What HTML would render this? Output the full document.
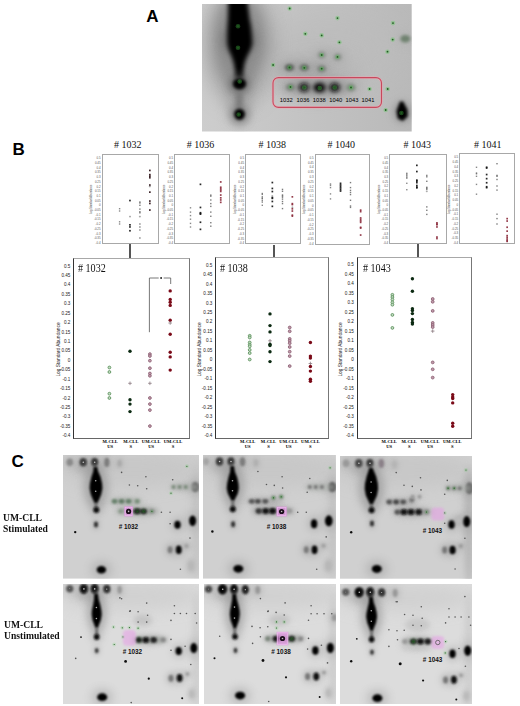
<!DOCTYPE html><html><head><meta charset="utf-8"><style>
html,body{margin:0;padding:0;background:#fff;}
body{width:520px;height:706px;position:relative;overflow:hidden;font-family:"Liberation Sans", sans-serif;}
.abs{position:absolute;}
.lab{position:absolute;font:bold 17px/17px "Liberation Sans", sans-serif;color:#000;}
.st{position:absolute;width:40px;text-align:center;font:10px/10px "Liberation Serif", serif;color:#111;white-space:nowrap;}
.sbox{position:absolute;box-sizing:border-box;border:1.3px solid #a8a8a8;background:#fff;}
.syl{position:absolute;width:11px;text-align:right;font:2.9px/2.6px "Liberation Sans", sans-serif;color:#555;white-space:nowrap;}
.syt{position:absolute;width:40px;margin-left:-20px;margin-top:-1.2px;text-align:center;font:2.6px/2.4px "Liberation Sans", sans-serif;color:#444;white-space:nowrap;transform:rotate(-90deg);}
.bbox{position:absolute;box-sizing:border-box;border-left:1.2px solid #333;border-top:1.6px solid #a8a8a8;border-right:1.2px solid #777;border-bottom:1.6px solid #666;background:#fff;}
.bt{position:absolute;font:11.6px/10px "Liberation Serif", serif;color:#111;white-space:nowrap;transform:scaleX(0.87);transform-origin:0 0;}
.byl{position:absolute;width:20px;text-align:right;font:4.6px/5px "Liberation Sans", sans-serif;color:#222;white-space:nowrap;}
.byt{position:absolute;width:80px;margin-left:-40px;margin-top:-2.5px;text-align:center;font:4.8px/5px "Liberation Sans", sans-serif;color:#222;white-space:nowrap;transform:rotate(-90deg);}
.bxl{position:absolute;width:30px;text-align:center;font:bold 4.6px/5px "Liberation Serif", serif;color:#000;white-space:nowrap;}
.conn{position:absolute;width:1.6px;background:#555;}
.side{position:absolute;font:bold 10.5px/11.25px "Liberation Serif", serif;color:#111;white-space:nowrap;transform:scaleX(0.915);transform-origin:0 0;}

</style></head><body>
<div class="lab" style="left:146.3px;top:7.8px;">A</div>
<div class="lab" style="left:12.5px;top:141px;">B</div>
<div class="lab" style="left:11.5px;top:453px;">C</div>
<svg class="abs" style="left:202.3px;top:4px" width="209.7" height="127.5" viewBox="0 0 209.7 127.5"><rect width="209.7" height="127.5" fill="url(#gA)"/><defs><linearGradient id="gA" x1="0" y1="0" x2="1" y2="0"><stop offset="0" stop-color="#cdcdcd"/><stop offset="0.35" stop-color="#c6c6c6"/><stop offset="1" stop-color="#b9b9b9"/></linearGradient></defs><ellipse cx="127.7" cy="46.0" rx="70.0" ry="35.0" fill="#bcbcbc" filter="url(#f14_00)" opacity="0.8"/><ellipse cx="37.2" cy="41.0" rx="32.0" ry="58.0" fill="#8e8e8e" filter="url(#f11_00)" opacity="0.75"/><ellipse cx="37.2" cy="36.0" rx="24.0" ry="44.0" fill="#868686" filter="url(#f7_00)" opacity="0.8"/><ellipse cx="112.7" cy="71.0" rx="45.0" ry="22.0" fill="#b4b4b4" filter="url(#f9_00)" opacity="0.8"/><ellipse cx="37.2" cy="96.0" rx="12.0" ry="26.0" fill="#9a9a9a" filter="url(#f6_00)" opacity="0.6"/><ellipse cx="37.2" cy="36.0" rx="17.0" ry="14.0" fill="#707070" filter="url(#f5_00)" opacity="0.8"/><path d="M26.2 -4.0 L26.2 1.0 L26.1 7.0 L25.9 14.0 L25.4 22.0 L25.2 31.0 L25.3 40.0 L26.8 46.0 L29.4 52.0 L31.4 58.0 L32.6 64.0 L33.2 70.0 L33.0 75.0 L41.4 75.0 L41.2 70.0 L41.8 64.0 L43.0 58.0 L45.4 52.0 L48.4 46.0 L50.3 40.0 L49.8 31.0 L49.0 22.0 L47.5 14.0 L46.7 7.0 L45.8 1.0 L45.2 -4.0Z" fill="#000" filter="url(#f2_20)"/><ellipse cx="37.2" cy="80.0" rx="10.0" ry="9.0" fill="#5a5a5a" filter="url(#f4_00)" opacity="0.8"/><ellipse cx="37.2" cy="95.0" rx="3.5" ry="12.0" fill="#7a7a7a" filter="url(#f2_50)"/><ellipse cx="37.5" cy="79.8" rx="6.6" ry="5.6" fill="#000" filter="url(#f1_60)"/><ellipse cx="37.5" cy="110.5" rx="9.0" ry="9.0" fill="#6a6a6a" filter="url(#f4_00)" opacity="0.7"/><ellipse cx="37.5" cy="110.3" rx="5.4" ry="5.6" fill="#050505" filter="url(#f1_60)"/><ellipse cx="115.7" cy="83.5" rx="36.0" ry="5.0" fill="#a2a2a2" filter="url(#f3_50)"/><ellipse cx="101.7" cy="63.8" rx="28.0" ry="4.5" fill="#acacac" filter="url(#f3_50)"/><ellipse cx="127.7" cy="52.0" rx="14.0" ry="5.0" fill="#b8b8b8" filter="url(#f3_50)"/><ellipse cx="88.5" cy="83.2" rx="9.2" ry="6.5" fill="#8a8a8a" filter="url(#f5_14)" opacity="0.275"/><ellipse cx="88.5" cy="83.2" rx="4.6" ry="3.6" fill="#7a847a" filter="url(#f1_70)"/><ellipse cx="102.3" cy="83.4" rx="10.8" ry="7.7" fill="#8a8a8a" filter="url(#f5_86)" opacity="0.6050000000000001"/><ellipse cx="102.3" cy="83.4" rx="5.4" ry="4.3" fill="#101010" filter="url(#f2_00)"/><ellipse cx="117.9" cy="83.6" rx="12.8" ry="8.8" fill="#8a8a8a" filter="url(#f6_76)" opacity="0.6050000000000001"/><ellipse cx="117.9" cy="83.6" rx="6.4" ry="4.9" fill="#050505" filter="url(#f2_00)"/><ellipse cx="132.7" cy="83.5" rx="10.8" ry="7.9" fill="#8a8a8a" filter="url(#f5_86)" opacity="0.6050000000000001"/><ellipse cx="132.7" cy="83.5" rx="5.4" ry="4.4" fill="#101010" filter="url(#f2_00)"/><ellipse cx="149.0" cy="83.6" rx="9.2" ry="6.8" fill="#8a8a8a" filter="url(#f5_14)" opacity="0.275"/><ellipse cx="149.0" cy="83.6" rx="4.6" ry="3.8" fill="#7f8e7f" filter="url(#f1_80)"/><ellipse cx="87.5" cy="63.5" rx="9.6" ry="6.3" fill="#8a8a8a" filter="url(#f5_32)" opacity="0.33"/><ellipse cx="87.5" cy="63.5" rx="4.8" ry="3.5" fill="#5a605a" filter="url(#f1_70)"/><ellipse cx="102.3" cy="63.6" rx="9.6" ry="6.3" fill="#8a8a8a" filter="url(#f5_32)" opacity="0.33"/><ellipse cx="102.3" cy="63.6" rx="4.8" ry="3.5" fill="#687068" filter="url(#f1_70)"/><ellipse cx="119.7" cy="64.7" rx="8.6" ry="6.3" fill="#8a8a8a" filter="url(#f4_87)" opacity="0.275"/><ellipse cx="119.7" cy="64.7" rx="4.3" ry="3.5" fill="#7a827a" filter="url(#f1_70)"/><ellipse cx="119.7" cy="51.0" rx="7.6" ry="6.5" fill="#8a8a8a" filter="url(#f4_42)" opacity="0.22000000000000003"/><ellipse cx="119.7" cy="51.0" rx="3.8" ry="3.6" fill="#8a908a" filter="url(#f1_80)"/><ellipse cx="135.7" cy="53.0" rx="7.6" ry="6.5" fill="#8a8a8a" filter="url(#f4_42)" opacity="0.22000000000000003"/><ellipse cx="135.7" cy="53.0" rx="3.8" ry="3.6" fill="#8a908a" filter="url(#f1_80)"/><ellipse cx="203.3" cy="34.8" rx="10.0" ry="6.8" fill="#8a8a8a" filter="url(#f5_50)" opacity="0.11000000000000001"/><ellipse cx="203.3" cy="34.8" rx="5.0" ry="3.8" fill="#6f826f" filter="url(#f1_50)"/><ellipse cx="200.2" cy="108.0" rx="8.0" ry="10.0" fill="#787878" filter="url(#f4_00)" opacity="0.7"/><path d="M198.0 97.5 L201.2 97.5 L205.5 106.0 L205.7 112.5 L200.7 117.0 L195.7 114.5 L194.5 107.0Z" fill="#000" filter="url(#f1_40)"/><circle cx="36.0" cy="22.2" r="2.3" fill="#4ccc4c" opacity="0.33" filter="url(#f0_60)"/><circle cx="36.0" cy="22.2" r="0.9" fill="#225a22" filter="url(#f0_30)"/><circle cx="36.0" cy="43.7" r="2.3" fill="#4ccc4c" opacity="0.33" filter="url(#f0_60)"/><circle cx="36.0" cy="43.7" r="0.9" fill="#225a22" filter="url(#f0_30)"/><circle cx="37.7" cy="77.5" r="2.3" fill="#4ccc4c" opacity="0.33" filter="url(#f0_60)"/><circle cx="37.7" cy="77.5" r="0.9" fill="#225a22" filter="url(#f0_30)"/><circle cx="36.7" cy="110.5" r="2.3" fill="#4ccc4c" opacity="0.33" filter="url(#f0_60)"/><circle cx="36.7" cy="110.5" r="0.9" fill="#225a22" filter="url(#f0_30)"/><circle cx="87.7" cy="4.5" r="2.3" fill="#4ccc4c" opacity="0.33" filter="url(#f0_60)"/><circle cx="87.7" cy="4.5" r="0.9" fill="#225a22" filter="url(#f0_30)"/><circle cx="103.3" cy="29.8" r="2.3" fill="#4ccc4c" opacity="0.33" filter="url(#f0_60)"/><circle cx="103.3" cy="29.8" r="0.9" fill="#225a22" filter="url(#f0_30)"/><circle cx="119.7" cy="31.4" r="2.3" fill="#4ccc4c" opacity="0.33" filter="url(#f0_60)"/><circle cx="119.7" cy="31.4" r="0.9" fill="#225a22" filter="url(#f0_30)"/><circle cx="135.5" cy="14.1" r="2.3" fill="#4ccc4c" opacity="0.33" filter="url(#f0_60)"/><circle cx="135.5" cy="14.1" r="0.9" fill="#225a22" filter="url(#f0_30)"/><circle cx="137.4" cy="38.3" r="2.3" fill="#4ccc4c" opacity="0.33" filter="url(#f0_60)"/><circle cx="137.4" cy="38.3" r="0.9" fill="#225a22" filter="url(#f0_30)"/><circle cx="119.7" cy="51.0" r="2.3" fill="#4ccc4c" opacity="0.33" filter="url(#f0_60)"/><circle cx="119.7" cy="51.0" r="0.9" fill="#225a22" filter="url(#f0_30)"/><circle cx="135.5" cy="52.9" r="2.3" fill="#4ccc4c" opacity="0.33" filter="url(#f0_60)"/><circle cx="135.5" cy="52.9" r="0.9" fill="#225a22" filter="url(#f0_30)"/><circle cx="191.0" cy="19.1" r="2.3" fill="#4ccc4c" opacity="0.33" filter="url(#f0_60)"/><circle cx="191.0" cy="19.1" r="0.9" fill="#225a22" filter="url(#f0_30)"/><circle cx="190.7" cy="35.6" r="2.3" fill="#4ccc4c" opacity="0.33" filter="url(#f0_60)"/><circle cx="190.7" cy="35.6" r="0.9" fill="#225a22" filter="url(#f0_30)"/><circle cx="185.5" cy="47.7" r="2.3" fill="#4ccc4c" opacity="0.33" filter="url(#f0_60)"/><circle cx="185.5" cy="47.7" r="0.9" fill="#225a22" filter="url(#f0_30)"/><circle cx="185.7" cy="85.0" r="2.3" fill="#4ccc4c" opacity="0.33" filter="url(#f0_60)"/><circle cx="185.7" cy="85.0" r="0.9" fill="#225a22" filter="url(#f0_30)"/><circle cx="183.7" cy="106.0" r="2.3" fill="#4ccc4c" opacity="0.33" filter="url(#f0_60)"/><circle cx="183.7" cy="106.0" r="0.9" fill="#225a22" filter="url(#f0_30)"/><circle cx="71.1" cy="61.0" r="2.3" fill="#4ccc4c" opacity="0.33" filter="url(#f0_60)"/><circle cx="71.1" cy="61.0" r="0.9" fill="#225a22" filter="url(#f0_30)"/><circle cx="87.5" cy="63.5" r="2.3" fill="#4ccc4c" opacity="0.33" filter="url(#f0_60)"/><circle cx="87.5" cy="63.5" r="0.9" fill="#225a22" filter="url(#f0_30)"/><circle cx="102.3" cy="63.8" r="2.3" fill="#4ccc4c" opacity="0.33" filter="url(#f0_60)"/><circle cx="102.3" cy="63.8" r="0.9" fill="#225a22" filter="url(#f0_30)"/><circle cx="119.7" cy="64.7" r="2.3" fill="#4ccc4c" opacity="0.33" filter="url(#f0_60)"/><circle cx="119.7" cy="64.7" r="0.9" fill="#225a22" filter="url(#f0_30)"/><circle cx="88.5" cy="83.0" r="2.3" fill="#4ccc4c" opacity="0.33" filter="url(#f0_60)"/><circle cx="88.5" cy="83.0" r="0.9" fill="#225a22" filter="url(#f0_30)"/><circle cx="102.3" cy="83.5" r="2.3" fill="#4ccc4c" opacity="0.33" filter="url(#f0_60)"/><circle cx="102.3" cy="83.5" r="0.9" fill="#225a22" filter="url(#f0_30)"/><circle cx="117.7" cy="84.0" r="2.3" fill="#4ccc4c" opacity="0.33" filter="url(#f0_60)"/><circle cx="117.7" cy="84.0" r="0.9" fill="#225a22" filter="url(#f0_30)"/><circle cx="132.7" cy="83.5" r="2.3" fill="#4ccc4c" opacity="0.33" filter="url(#f0_60)"/><circle cx="132.7" cy="83.5" r="0.9" fill="#225a22" filter="url(#f0_30)"/><circle cx="149.0" cy="83.5" r="2.3" fill="#4ccc4c" opacity="0.33" filter="url(#f0_60)"/><circle cx="149.0" cy="83.5" r="0.9" fill="#225a22" filter="url(#f0_30)"/><circle cx="167.6" cy="85.0" r="2.3" fill="#4ccc4c" opacity="0.33" filter="url(#f0_60)"/><circle cx="167.6" cy="85.0" r="0.9" fill="#225a22" filter="url(#f0_30)"/><circle cx="199.4" cy="109.0" r="2.3" fill="#4ccc4c" opacity="0.33" filter="url(#f0_60)"/><circle cx="199.4" cy="109.0" r="0.9" fill="#225a22" filter="url(#f0_30)"/><rect x="71.0" y="73.6" width="108.5" height="29.8" rx="5.5" fill="none" stroke="#e8a8b4" stroke-width="2.6" opacity="0.7"/><rect x="71.0" y="73.6" width="108.5" height="29.8" rx="5.5" fill="none" stroke="#c8485c" stroke-width="1.1"/><text x="84.2" y="98.4" font-family='"Liberation Sans", sans-serif' font-size="5.8" font-weight="normal" fill="#000" text-anchor="middle">1032</text><text x="101.0" y="98.4" font-family='"Liberation Sans", sans-serif' font-size="5.8" font-weight="normal" fill="#000" text-anchor="middle">1036</text><text x="117.3" y="98.4" font-family='"Liberation Sans", sans-serif' font-size="5.8" font-weight="normal" fill="#000" text-anchor="middle">1038</text><text x="133.7" y="98.4" font-family='"Liberation Sans", sans-serif' font-size="5.8" font-weight="normal" fill="#000" text-anchor="middle">1040</text><text x="150.0" y="98.4" font-family='"Liberation Sans", sans-serif' font-size="5.8" font-weight="normal" fill="#000" text-anchor="middle">1043</text><text x="166.0" y="98.4" font-family='"Liberation Sans", sans-serif' font-size="5.8" font-weight="normal" fill="#000" text-anchor="middle">1041</text></svg>
<div class="st" style="left:107.7px;top:139.5px;">#&nbsp;1032</div>
<div class="sbox" style="left:101.6px;top:154.3px;width:57.3px;height:90.0px;"></div>
<div class="syl" style="left:89.6px;top:157.2px;">0.5</div>
<div class="syl" style="left:89.6px;top:161.9px;">0.45</div>
<div class="syl" style="left:89.6px;top:166.6px;">0.4</div>
<div class="syl" style="left:89.6px;top:171.3px;">0.35</div>
<div class="syl" style="left:89.6px;top:176.0px;">0.3</div>
<div class="syl" style="left:89.6px;top:180.8px;">0.25</div>
<div class="syl" style="left:89.6px;top:185.5px;">0.2</div>
<div class="syl" style="left:89.6px;top:190.2px;">0.15</div>
<div class="syl" style="left:89.6px;top:194.9px;">0.1</div>
<div class="syl" style="left:89.6px;top:199.6px;">0.05</div>
<div class="syl" style="left:89.6px;top:204.3px;">0</div>
<div class="syl" style="left:89.6px;top:209.0px;">-0.05</div>
<div class="syl" style="left:89.6px;top:213.7px;">-0.1</div>
<div class="syl" style="left:89.6px;top:218.4px;">-0.15</div>
<div class="syl" style="left:89.6px;top:223.2px;">-0.2</div>
<div class="syl" style="left:89.6px;top:227.9px;">-0.25</div>
<div class="syl" style="left:89.6px;top:232.6px;">-0.3</div>
<div class="syl" style="left:89.6px;top:237.3px;">-0.35</div>
<div class="syl" style="left:89.6px;top:242.0px;">-0.4</div>
<div class="syt" style="left:92.1px;top:199.3px;">Log Standard Abundance</div>
<svg class="abs" style="left:101.6px;top:154.3px" width="57.3" height="90.0">
<rect x="16.9" y="54.0" width="1.4" height="1.4" fill="#555" opacity="0.7"/>
<rect x="16.9" y="56.3" width="1.4" height="1.4" fill="#555" opacity="0.7"/>
<rect x="16.9" y="67.1" width="1.4" height="1.4" fill="#555" opacity="0.7"/>
<rect x="16.9" y="69.3" width="1.4" height="1.4" fill="#555" opacity="0.7"/>
<rect x="27.1" y="45.7" width="1.7" height="1.7" fill="#111" opacity="0.9"/>
<path d="M27.0 62.6h2M28.0 61.6v2" stroke="#777" stroke-width="0.5"/>
<rect x="27.1" y="70.0" width="1.7" height="1.7" fill="#111" opacity="0.9"/>
<rect x="27.1" y="72.1" width="1.7" height="1.7" fill="#111" opacity="0.9"/>
<rect x="27.1" y="75.9" width="1.7" height="1.7" fill="#111" opacity="0.9"/>
<rect x="37.2" y="47.3" width="1.4" height="1.4" fill="#444" opacity="0.7"/>
<rect x="37.2" y="48.3" width="1.4" height="1.4" fill="#444" opacity="0.7"/>
<rect x="37.2" y="50.6" width="1.4" height="1.4" fill="#444" opacity="0.7"/>
<rect x="37.2" y="54.4" width="1.4" height="1.4" fill="#444" opacity="0.7"/>
<rect x="37.2" y="57.0" width="1.4" height="1.4" fill="#444" opacity="0.7"/>
<rect x="37.2" y="58.1" width="1.4" height="1.4" fill="#444" opacity="0.7"/>
<path d="M36.9 62.6h2M37.9 61.6v2" stroke="#777" stroke-width="0.5"/>
<rect x="37.2" y="69.3" width="1.4" height="1.4" fill="#444" opacity="0.7"/>
<rect x="37.2" y="72.3" width="1.4" height="1.4" fill="#444" opacity="0.7"/>
<rect x="37.2" y="75.3" width="1.4" height="1.4" fill="#444" opacity="0.7"/>
<rect x="37.2" y="83.3" width="1.4" height="1.4" fill="#444" opacity="0.7"/>
<rect x="47.0" y="15.6" width="1.7" height="1.7" fill="#2a1014" opacity="0.9"/>
<rect x="47.0" y="19.8" width="1.7" height="1.7" fill="#2a1014" opacity="0.9"/>
<rect x="47.0" y="21.3" width="1.7" height="1.7" fill="#2a1014" opacity="0.9"/>
<rect x="47.0" y="22.9" width="1.7" height="1.7" fill="#2a1014" opacity="0.9"/>
<rect x="47.0" y="30.2" width="1.7" height="1.7" fill="#2a1014" opacity="0.9"/>
<path d="M46.8 32.5h2M47.8 31.5v2" stroke="#777" stroke-width="0.5"/>
<rect x="47.0" y="37.3" width="1.7" height="1.7" fill="#2a1014" opacity="0.9"/>
<rect x="47.0" y="46.2" width="1.7" height="1.7" fill="#2a1014" opacity="0.9"/>
<rect x="47.0" y="48.6" width="1.7" height="1.7" fill="#2a1014" opacity="0.9"/>
<rect x="47.0" y="55.2" width="1.7" height="1.7" fill="#2a1014" opacity="0.9"/>
</svg>
<div class="st" style="left:180.5px;top:139.5px;">#&nbsp;1036</div>
<div class="sbox" style="left:174.1px;top:154.3px;width:55.5px;height:90.0px;"></div>
<div class="syl" style="left:162.1px;top:157.2px;">0.5</div>
<div class="syl" style="left:162.1px;top:161.9px;">0.45</div>
<div class="syl" style="left:162.1px;top:166.6px;">0.4</div>
<div class="syl" style="left:162.1px;top:171.3px;">0.35</div>
<div class="syl" style="left:162.1px;top:176.0px;">0.3</div>
<div class="syl" style="left:162.1px;top:180.8px;">0.25</div>
<div class="syl" style="left:162.1px;top:185.5px;">0.2</div>
<div class="syl" style="left:162.1px;top:190.2px;">0.15</div>
<div class="syl" style="left:162.1px;top:194.9px;">0.1</div>
<div class="syl" style="left:162.1px;top:199.6px;">0.05</div>
<div class="syl" style="left:162.1px;top:204.3px;">0</div>
<div class="syl" style="left:162.1px;top:209.0px;">-0.05</div>
<div class="syl" style="left:162.1px;top:213.7px;">-0.1</div>
<div class="syl" style="left:162.1px;top:218.4px;">-0.15</div>
<div class="syl" style="left:162.1px;top:223.2px;">-0.2</div>
<div class="syl" style="left:162.1px;top:227.9px;">-0.25</div>
<div class="syl" style="left:162.1px;top:232.6px;">-0.3</div>
<div class="syl" style="left:162.1px;top:237.3px;">-0.35</div>
<div class="syl" style="left:162.1px;top:242.0px;">-0.4</div>
<div class="syt" style="left:164.6px;top:199.3px;">Log Standard Abundance</div>
<svg class="abs" style="left:174.1px;top:154.3px" width="55.5" height="90.0">
<rect x="15.8" y="53.1" width="1.4" height="1.4" fill="#555" opacity="0.7"/>
<rect x="15.8" y="57.4" width="1.4" height="1.4" fill="#555" opacity="0.7"/>
<rect x="15.8" y="60.9" width="1.4" height="1.4" fill="#555" opacity="0.7"/>
<rect x="15.8" y="64.5" width="1.4" height="1.4" fill="#555" opacity="0.7"/>
<rect x="15.8" y="68.7" width="1.4" height="1.4" fill="#555" opacity="0.7"/>
<rect x="15.8" y="72.3" width="1.4" height="1.4" fill="#555" opacity="0.7"/>
<rect x="25.6" y="29.5" width="1.7" height="1.7" fill="#111" opacity="0.9"/>
<rect x="25.6" y="52.6" width="1.7" height="1.7" fill="#111" opacity="0.9"/>
<rect x="25.6" y="57.9" width="1.7" height="1.7" fill="#111" opacity="0.9"/>
<rect x="25.6" y="58.6" width="1.7" height="1.7" fill="#111" opacity="0.9"/>
<rect x="25.6" y="59.3" width="1.7" height="1.7" fill="#111" opacity="0.9"/>
<rect x="25.6" y="67.4" width="1.7" height="1.7" fill="#111" opacity="0.9"/>
<rect x="25.6" y="74.5" width="1.7" height="1.7" fill="#111" opacity="0.9"/>
<rect x="36.1" y="40.4" width="1.4" height="1.4" fill="#444" opacity="0.7"/>
<rect x="36.1" y="41.5" width="1.4" height="1.4" fill="#444" opacity="0.7"/>
<rect x="36.1" y="45.3" width="1.4" height="1.4" fill="#444" opacity="0.7"/>
<rect x="36.1" y="48.9" width="1.4" height="1.4" fill="#444" opacity="0.7"/>
<rect x="36.1" y="51.7" width="1.4" height="1.4" fill="#444" opacity="0.7"/>
<rect x="36.1" y="57.4" width="1.4" height="1.4" fill="#444" opacity="0.7"/>
<rect x="36.1" y="61.6" width="1.4" height="1.4" fill="#444" opacity="0.7"/>
<rect x="36.1" y="68.0" width="1.4" height="1.4" fill="#444" opacity="0.7"/>
<rect x="36.1" y="71.5" width="1.4" height="1.4" fill="#444" opacity="0.7"/>
<rect x="45.9" y="27.1" width="1.7" height="1.7" fill="#8a2838" opacity="0.9"/>
<rect x="45.9" y="32.4" width="1.7" height="1.7" fill="#8a2838" opacity="0.9"/>
<rect x="45.9" y="33.8" width="1.7" height="1.7" fill="#8a2838" opacity="0.9"/>
<rect x="45.9" y="35.2" width="1.7" height="1.7" fill="#8a2838" opacity="0.9"/>
<rect x="45.9" y="36.6" width="1.7" height="1.7" fill="#8a2838" opacity="0.9"/>
<rect x="45.9" y="40.2" width="1.7" height="1.7" fill="#8a2838" opacity="0.9"/>
<rect x="45.9" y="43.0" width="1.7" height="1.7" fill="#8a2838" opacity="0.9"/>
<rect x="45.9" y="45.1" width="1.7" height="1.7" fill="#8a2838" opacity="0.9"/>
<rect x="45.9" y="47.5" width="1.7" height="1.7" fill="#8a2838" opacity="0.9"/>
</svg>
<div class="st" style="left:252.3px;top:139.5px;">#&nbsp;1038</div>
<div class="sbox" style="left:245.0px;top:154.3px;width:55.6px;height:90.2px;"></div>
<div class="syl" style="left:233.0px;top:157.2px;">0.5</div>
<div class="syl" style="left:233.0px;top:161.9px;">0.45</div>
<div class="syl" style="left:233.0px;top:166.6px;">0.4</div>
<div class="syl" style="left:233.0px;top:171.4px;">0.35</div>
<div class="syl" style="left:233.0px;top:176.1px;">0.3</div>
<div class="syl" style="left:233.0px;top:180.8px;">0.25</div>
<div class="syl" style="left:233.0px;top:185.5px;">0.2</div>
<div class="syl" style="left:233.0px;top:190.3px;">0.15</div>
<div class="syl" style="left:233.0px;top:195.0px;">0.1</div>
<div class="syl" style="left:233.0px;top:199.7px;">0.05</div>
<div class="syl" style="left:233.0px;top:204.4px;">0</div>
<div class="syl" style="left:233.0px;top:209.1px;">-0.05</div>
<div class="syl" style="left:233.0px;top:213.9px;">-0.1</div>
<div class="syl" style="left:233.0px;top:218.6px;">-0.15</div>
<div class="syl" style="left:233.0px;top:223.3px;">-0.2</div>
<div class="syl" style="left:233.0px;top:228.0px;">-0.25</div>
<div class="syl" style="left:233.0px;top:232.8px;">-0.3</div>
<div class="syl" style="left:233.0px;top:237.5px;">-0.35</div>
<div class="syl" style="left:233.0px;top:242.2px;">-0.4</div>
<div class="syt" style="left:235.5px;top:199.4px;">Log Standard Abundance</div>
<svg class="abs" style="left:245.0px;top:154.3px" width="55.6" height="90.2">
<rect x="16.6" y="38.8" width="1.4" height="1.4" fill="#555" opacity="0.7"/>
<rect x="16.6" y="39.7" width="1.4" height="1.4" fill="#555" opacity="0.7"/>
<rect x="16.6" y="42.1" width="1.4" height="1.4" fill="#555" opacity="0.7"/>
<rect x="16.6" y="43.3" width="1.4" height="1.4" fill="#555" opacity="0.7"/>
<rect x="16.6" y="44.0" width="1.4" height="1.4" fill="#555" opacity="0.7"/>
<rect x="16.6" y="45.8" width="1.4" height="1.4" fill="#555" opacity="0.7"/>
<rect x="16.6" y="47.4" width="1.4" height="1.4" fill="#555" opacity="0.7"/>
<rect x="16.6" y="50.6" width="1.4" height="1.4" fill="#555" opacity="0.7"/>
<rect x="26.5" y="27.7" width="1.7" height="1.7" fill="#111" opacity="0.9"/>
<rect x="26.5" y="33.6" width="1.7" height="1.7" fill="#111" opacity="0.9"/>
<rect x="26.5" y="36.7" width="1.7" height="1.7" fill="#111" opacity="0.9"/>
<path d="M26.3 42.0h2M27.3 41.0v2" stroke="#777" stroke-width="0.5"/>
<rect x="26.5" y="42.8" width="1.7" height="1.7" fill="#111" opacity="0.9"/>
<rect x="26.5" y="43.5" width="1.7" height="1.7" fill="#111" opacity="0.9"/>
<rect x="26.5" y="46.6" width="1.7" height="1.7" fill="#111" opacity="0.9"/>
<rect x="26.5" y="51.5" width="1.7" height="1.7" fill="#111" opacity="0.9"/>
<rect x="36.8" y="34.7" width="1.4" height="1.4" fill="#444" opacity="0.7"/>
<rect x="36.8" y="36.6" width="1.4" height="1.4" fill="#444" opacity="0.7"/>
<rect x="36.8" y="40.3" width="1.4" height="1.4" fill="#444" opacity="0.7"/>
<rect x="36.8" y="41.3" width="1.4" height="1.4" fill="#444" opacity="0.7"/>
<rect x="36.8" y="42.5" width="1.4" height="1.4" fill="#444" opacity="0.7"/>
<rect x="36.8" y="44.4" width="1.4" height="1.4" fill="#444" opacity="0.7"/>
<rect x="36.8" y="46.8" width="1.4" height="1.4" fill="#444" opacity="0.7"/>
<rect x="36.8" y="48.9" width="1.4" height="1.4" fill="#444" opacity="0.7"/>
<rect x="36.8" y="53.9" width="1.4" height="1.4" fill="#444" opacity="0.7"/>
<rect x="46.5" y="42.0" width="1.7" height="1.7" fill="#8a2838" opacity="0.9"/>
<rect x="46.5" y="48.8" width="1.7" height="1.7" fill="#8a2838" opacity="0.9"/>
<rect x="46.5" y="49.7" width="1.7" height="1.7" fill="#8a2838" opacity="0.9"/>
<path d="M46.4 53.3h2M47.4 52.3v2" stroke="#777" stroke-width="0.5"/>
<rect x="46.5" y="54.0" width="1.7" height="1.7" fill="#8a2838" opacity="0.9"/>
<rect x="46.5" y="56.2" width="1.7" height="1.7" fill="#8a2838" opacity="0.9"/>
<rect x="46.5" y="60.3" width="1.7" height="1.7" fill="#8a2838" opacity="0.9"/>
<rect x="46.5" y="61.3" width="1.7" height="1.7" fill="#8a2838" opacity="0.9"/>
</svg>
<div class="st" style="left:321.2px;top:139.5px;">#&nbsp;1040</div>
<div class="sbox" style="left:314.6px;top:154.0px;width:55.9px;height:91.0px;"></div>
<div class="syl" style="left:302.6px;top:156.9px;">0.5</div>
<div class="syl" style="left:302.6px;top:161.7px;">0.45</div>
<div class="syl" style="left:302.6px;top:166.4px;">0.4</div>
<div class="syl" style="left:302.6px;top:171.2px;">0.35</div>
<div class="syl" style="left:302.6px;top:176.0px;">0.3</div>
<div class="syl" style="left:302.6px;top:180.7px;">0.25</div>
<div class="syl" style="left:302.6px;top:185.5px;">0.2</div>
<div class="syl" style="left:302.6px;top:190.3px;">0.15</div>
<div class="syl" style="left:302.6px;top:195.0px;">0.1</div>
<div class="syl" style="left:302.6px;top:199.8px;">0.05</div>
<div class="syl" style="left:302.6px;top:204.6px;">0</div>
<div class="syl" style="left:302.6px;top:209.3px;">-0.05</div>
<div class="syl" style="left:302.6px;top:214.1px;">-0.1</div>
<div class="syl" style="left:302.6px;top:218.9px;">-0.15</div>
<div class="syl" style="left:302.6px;top:223.6px;">-0.2</div>
<div class="syl" style="left:302.6px;top:228.4px;">-0.25</div>
<div class="syl" style="left:302.6px;top:233.2px;">-0.3</div>
<div class="syl" style="left:302.6px;top:237.9px;">-0.35</div>
<div class="syl" style="left:302.6px;top:242.7px;">-0.4</div>
<div class="syt" style="left:305.1px;top:199.5px;">Log Standard Abundance</div>
<svg class="abs" style="left:314.6px;top:154.0px" width="55.9" height="91.0">
<rect x="14.8" y="29.3" width="1.4" height="1.4" fill="#555" opacity="0.7"/>
<rect x="14.8" y="30.7" width="1.4" height="1.4" fill="#555" opacity="0.7"/>
<rect x="14.8" y="32.9" width="1.4" height="1.4" fill="#555" opacity="0.7"/>
<rect x="14.8" y="39.2" width="1.4" height="1.4" fill="#555" opacity="0.7"/>
<rect x="14.8" y="44.2" width="1.4" height="1.4" fill="#555" opacity="0.7"/>
<rect x="24.7" y="28.5" width="1.7" height="1.7" fill="#111" opacity="0.9"/>
<rect x="24.7" y="30.1" width="1.7" height="1.7" fill="#111" opacity="0.9"/>
<rect x="24.7" y="31.6" width="1.7" height="1.7" fill="#111" opacity="0.9"/>
<rect x="24.7" y="33.1" width="1.7" height="1.7" fill="#111" opacity="0.9"/>
<rect x="24.7" y="34.7" width="1.7" height="1.7" fill="#111" opacity="0.9"/>
<rect x="24.7" y="36.2" width="1.7" height="1.7" fill="#111" opacity="0.9"/>
<rect x="34.8" y="27.9" width="1.4" height="1.4" fill="#444" opacity="0.7"/>
<rect x="34.8" y="32.9" width="1.4" height="1.4" fill="#444" opacity="0.7"/>
<rect x="34.8" y="35.7" width="1.4" height="1.4" fill="#444" opacity="0.7"/>
<rect x="34.8" y="37.8" width="1.4" height="1.4" fill="#444" opacity="0.7"/>
<rect x="34.8" y="39.9" width="1.4" height="1.4" fill="#444" opacity="0.7"/>
<rect x="34.8" y="45.6" width="1.4" height="1.4" fill="#444" opacity="0.7"/>
<rect x="34.8" y="51.3" width="1.4" height="1.4" fill="#444" opacity="0.7"/>
<rect x="34.8" y="52.7" width="1.4" height="1.4" fill="#444" opacity="0.7"/>
<rect x="44.8" y="55.3" width="1.7" height="1.7" fill="#8a2838" opacity="0.9"/>
<rect x="44.8" y="56.8" width="1.7" height="1.7" fill="#8a2838" opacity="0.9"/>
<rect x="44.8" y="63.1" width="1.7" height="1.7" fill="#8a2838" opacity="0.9"/>
<rect x="44.8" y="64.7" width="1.7" height="1.7" fill="#8a2838" opacity="0.9"/>
<rect x="44.8" y="66.1" width="1.7" height="1.7" fill="#8a2838" opacity="0.9"/>
<rect x="44.8" y="67.5" width="1.7" height="1.7" fill="#8a2838" opacity="0.9"/>
<rect x="44.8" y="72.5" width="1.7" height="1.7" fill="#8a2838" opacity="0.9"/>
<rect x="44.8" y="73.2" width="1.7" height="1.7" fill="#8a2838" opacity="0.9"/>
<rect x="44.8" y="80.2" width="1.7" height="1.7" fill="#8a2838" opacity="0.9"/>
</svg>
<div class="st" style="left:397.3px;top:139.5px;">#&nbsp;1043</div>
<div class="sbox" style="left:389.2px;top:154.2px;width:57.9px;height:90.1px;"></div>
<div class="syl" style="left:377.2px;top:157.1px;">0.5</div>
<div class="syl" style="left:377.2px;top:161.8px;">0.45</div>
<div class="syl" style="left:377.2px;top:166.5px;">0.4</div>
<div class="syl" style="left:377.2px;top:171.2px;">0.35</div>
<div class="syl" style="left:377.2px;top:176.0px;">0.3</div>
<div class="syl" style="left:377.2px;top:180.7px;">0.25</div>
<div class="syl" style="left:377.2px;top:185.4px;">0.2</div>
<div class="syl" style="left:377.2px;top:190.1px;">0.15</div>
<div class="syl" style="left:377.2px;top:194.8px;">0.1</div>
<div class="syl" style="left:377.2px;top:199.5px;">0.05</div>
<div class="syl" style="left:377.2px;top:204.3px;">0</div>
<div class="syl" style="left:377.2px;top:209.0px;">-0.05</div>
<div class="syl" style="left:377.2px;top:213.7px;">-0.1</div>
<div class="syl" style="left:377.2px;top:218.4px;">-0.15</div>
<div class="syl" style="left:377.2px;top:223.1px;">-0.2</div>
<div class="syl" style="left:377.2px;top:227.8px;">-0.25</div>
<div class="syl" style="left:377.2px;top:232.6px;">-0.3</div>
<div class="syl" style="left:377.2px;top:237.3px;">-0.35</div>
<div class="syl" style="left:377.2px;top:242.0px;">-0.4</div>
<div class="syt" style="left:379.7px;top:199.2px;">Log Standard Abundance</div>
<svg class="abs" style="left:389.2px;top:154.2px" width="57.9" height="90.1">
<rect x="17.1" y="18.6" width="1.4" height="1.4" fill="#555" opacity="0.7"/>
<rect x="17.1" y="19.7" width="1.4" height="1.4" fill="#555" opacity="0.7"/>
<rect x="17.1" y="21.0" width="1.4" height="1.4" fill="#555" opacity="0.7"/>
<rect x="17.1" y="22.4" width="1.4" height="1.4" fill="#555" opacity="0.7"/>
<rect x="17.1" y="23.5" width="1.4" height="1.4" fill="#555" opacity="0.7"/>
<rect x="17.1" y="28.6" width="1.4" height="1.4" fill="#555" opacity="0.7"/>
<rect x="17.1" y="35.0" width="1.4" height="1.4" fill="#555" opacity="0.7"/>
<rect x="27.0" y="10.5" width="1.7" height="1.7" fill="#111" opacity="0.9"/>
<rect x="27.0" y="16.7" width="1.7" height="1.7" fill="#111" opacity="0.9"/>
<rect x="27.0" y="25.3" width="1.7" height="1.7" fill="#111" opacity="0.9"/>
<rect x="27.0" y="26.3" width="1.7" height="1.7" fill="#111" opacity="0.9"/>
<rect x="27.0" y="27.8" width="1.7" height="1.7" fill="#111" opacity="0.9"/>
<rect x="27.0" y="30.7" width="1.7" height="1.7" fill="#111" opacity="0.9"/>
<rect x="27.0" y="32.2" width="1.7" height="1.7" fill="#111" opacity="0.9"/>
<rect x="27.0" y="33.0" width="1.7" height="1.7" fill="#111" opacity="0.9"/>
<rect x="37.1" y="20.7" width="1.4" height="1.4" fill="#444" opacity="0.7"/>
<rect x="37.1" y="22.1" width="1.4" height="1.4" fill="#444" opacity="0.7"/>
<rect x="37.1" y="26.6" width="1.4" height="1.4" fill="#444" opacity="0.7"/>
<rect x="37.1" y="32.6" width="1.4" height="1.4" fill="#444" opacity="0.7"/>
<rect x="37.1" y="33.6" width="1.4" height="1.4" fill="#444" opacity="0.7"/>
<rect x="37.1" y="34.6" width="1.4" height="1.4" fill="#444" opacity="0.7"/>
<path d="M36.8 37.3h2M37.8 36.3v2" stroke="#777" stroke-width="0.5"/>
<rect x="37.1" y="52.2" width="1.4" height="1.4" fill="#444" opacity="0.7"/>
<rect x="37.1" y="55.6" width="1.4" height="1.4" fill="#444" opacity="0.7"/>
<rect x="37.1" y="59.7" width="1.4" height="1.4" fill="#444" opacity="0.7"/>
<rect x="47.1" y="68.0" width="1.7" height="1.7" fill="#8a2838" opacity="0.9"/>
<rect x="47.1" y="69.2" width="1.7" height="1.7" fill="#8a2838" opacity="0.9"/>
<rect x="47.1" y="69.9" width="1.7" height="1.7" fill="#8a2838" opacity="0.9"/>
<rect x="47.1" y="72.1" width="1.7" height="1.7" fill="#8a2838" opacity="0.9"/>
<rect x="47.1" y="82.2" width="1.7" height="1.7" fill="#8a2838" opacity="0.9"/>
<rect x="47.1" y="83.7" width="1.7" height="1.7" fill="#8a2838" opacity="0.9"/>
</svg>
<div class="st" style="left:467.8px;top:139.5px;">#&nbsp;1041</div>
<div class="sbox" style="left:459.2px;top:153.3px;width:55.4px;height:90.9px;"></div>
<div class="syl" style="left:447.2px;top:156.2px;">0.5</div>
<div class="syl" style="left:447.2px;top:161.0px;">0.45</div>
<div class="syl" style="left:447.2px;top:165.7px;">0.4</div>
<div class="syl" style="left:447.2px;top:170.5px;">0.35</div>
<div class="syl" style="left:447.2px;top:175.2px;">0.3</div>
<div class="syl" style="left:447.2px;top:180.0px;">0.25</div>
<div class="syl" style="left:447.2px;top:184.8px;">0.2</div>
<div class="syl" style="left:447.2px;top:189.5px;">0.15</div>
<div class="syl" style="left:447.2px;top:194.3px;">0.1</div>
<div class="syl" style="left:447.2px;top:199.0px;">0.05</div>
<div class="syl" style="left:447.2px;top:203.8px;">0</div>
<div class="syl" style="left:447.2px;top:208.6px;">-0.05</div>
<div class="syl" style="left:447.2px;top:213.3px;">-0.1</div>
<div class="syl" style="left:447.2px;top:218.1px;">-0.15</div>
<div class="syl" style="left:447.2px;top:222.9px;">-0.2</div>
<div class="syl" style="left:447.2px;top:227.6px;">-0.25</div>
<div class="syl" style="left:447.2px;top:232.4px;">-0.3</div>
<div class="syl" style="left:447.2px;top:237.1px;">-0.35</div>
<div class="syl" style="left:447.2px;top:241.9px;">-0.4</div>
<div class="syt" style="left:449.7px;top:198.8px;">Log Standard Abundance</div>
<svg class="abs" style="left:459.2px;top:153.3px" width="55.4" height="90.9">
<rect x="16.8" y="13.6" width="1.4" height="1.4" fill="#555" opacity="0.7"/>
<rect x="16.8" y="19.3" width="1.4" height="1.4" fill="#555" opacity="0.7"/>
<rect x="16.8" y="20.1" width="1.4" height="1.4" fill="#555" opacity="0.7"/>
<rect x="16.8" y="22.6" width="1.4" height="1.4" fill="#555" opacity="0.7"/>
<rect x="16.8" y="30.7" width="1.4" height="1.4" fill="#555" opacity="0.7"/>
<rect x="16.8" y="40.5" width="1.4" height="1.4" fill="#555" opacity="0.7"/>
<rect x="26.8" y="13.4" width="1.7" height="1.7" fill="#111" opacity="0.9"/>
<rect x="26.8" y="14.2" width="1.7" height="1.7" fill="#111" opacity="0.9"/>
<rect x="26.8" y="20.7" width="1.7" height="1.7" fill="#111" opacity="0.9"/>
<rect x="26.8" y="24.8" width="1.7" height="1.7" fill="#111" opacity="0.9"/>
<rect x="26.8" y="28.9" width="1.7" height="1.7" fill="#111" opacity="0.9"/>
<rect x="26.8" y="32.9" width="1.7" height="1.7" fill="#111" opacity="0.9"/>
<rect x="26.8" y="33.8" width="1.7" height="1.7" fill="#111" opacity="0.9"/>
<rect x="37.3" y="10.0" width="1.4" height="1.4" fill="#444" opacity="0.7"/>
<rect x="37.3" y="21.7" width="1.4" height="1.4" fill="#444" opacity="0.7"/>
<rect x="37.3" y="22.6" width="1.4" height="1.4" fill="#444" opacity="0.7"/>
<rect x="37.3" y="25.8" width="1.4" height="1.4" fill="#444" opacity="0.7"/>
<rect x="37.3" y="32.3" width="1.4" height="1.4" fill="#444" opacity="0.7"/>
<rect x="37.3" y="36.4" width="1.4" height="1.4" fill="#444" opacity="0.7"/>
<rect x="37.3" y="60.5" width="1.4" height="1.4" fill="#444" opacity="0.7"/>
<rect x="37.3" y="64.9" width="1.4" height="1.4" fill="#444" opacity="0.7"/>
<rect x="37.3" y="70.3" width="1.4" height="1.4" fill="#444" opacity="0.7"/>
<rect x="47.3" y="64.8" width="1.7" height="1.7" fill="#8a2838" opacity="0.9"/>
<rect x="47.3" y="67.2" width="1.7" height="1.7" fill="#8a2838" opacity="0.9"/>
<rect x="47.3" y="73.4" width="1.7" height="1.7" fill="#8a2838" opacity="0.9"/>
<rect x="47.3" y="77.3" width="1.7" height="1.7" fill="#8a2838" opacity="0.9"/>
<rect x="47.3" y="81.8" width="1.7" height="1.7" fill="#8a2838" opacity="0.9"/>
<rect x="47.3" y="83.5" width="1.7" height="1.7" fill="#8a2838" opacity="0.9"/>
<rect x="47.3" y="85.2" width="1.7" height="1.7" fill="#8a2838" opacity="0.9"/>
<rect x="47.3" y="86.8" width="1.7" height="1.7" fill="#8a2838" opacity="0.9"/>
<rect x="47.3" y="87.5" width="1.7" height="1.7" fill="#8a2838" opacity="0.9"/>
</svg>
<div class="conn" style="left:129.2px;top:244.3px;height:14.0px;"></div>
<div class="conn" style="left:273.0px;top:244.5px;height:13.4px;"></div>
<div class="conn" style="left:417.2px;top:244.3px;height:13.6px;"></div>
<div class="bbox" style="left:73.3px;top:257.8px;width:116.5px;height:181.0px;"></div>
<div class="bt" style="left:78.0px;top:263.5px;">#&nbsp;1032</div>
<div class="byl" style="left:50.4px;top:263.5px;">0.5</div>
<div class="byl" style="left:50.4px;top:272.9px;">0.45</div>
<div class="byl" style="left:50.4px;top:282.4px;">0.4</div>
<div class="byl" style="left:50.4px;top:291.8px;">0.35</div>
<div class="byl" style="left:50.4px;top:301.2px;">0.3</div>
<div class="byl" style="left:50.4px;top:310.6px;">0.25</div>
<div class="byl" style="left:50.4px;top:320.1px;">0.2</div>
<div class="byl" style="left:50.4px;top:329.5px;">0.15</div>
<div class="byl" style="left:50.4px;top:338.9px;">0.1</div>
<div class="byl" style="left:50.4px;top:348.4px;">0.05</div>
<div class="byl" style="left:50.4px;top:357.8px;">0</div>
<div class="byl" style="left:50.4px;top:367.2px;">-0.05</div>
<div class="byl" style="left:50.4px;top:376.7px;">-0.1</div>
<div class="byl" style="left:50.4px;top:386.1px;">-0.15</div>
<div class="byl" style="left:50.4px;top:395.5px;">-0.2</div>
<div class="byl" style="left:50.4px;top:404.9px;">-0.25</div>
<div class="byl" style="left:50.4px;top:414.4px;">-0.3</div>
<div class="byl" style="left:50.4px;top:423.8px;">-0.35</div>
<div class="byl" style="left:50.4px;top:433.2px;">-0.4</div>
<div class="byt" style="left:57.8px;top:349.0px;">Log Standard Abundance</div>
<div class="bxl" style="left:95.2px;top:439.0px;">M-CLL<br>US</div>
<div class="bxl" style="left:115.8px;top:439.0px;">M-CLL<br>S</div>
<div class="bxl" style="left:136.2px;top:439.0px;">UM-CLL<br>US</div>
<div class="bxl" style="left:158.0px;top:439.0px;">UM-CLL<br>S</div>
<svg class="abs" style="left:73.3px;top:257.8px" width="116.5" height="181.0">
<circle cx="36.4" cy="109.5" r="1.4" fill="#c4dcc4" stroke="#5f935f" stroke-width="0.9"/>
<circle cx="36.4" cy="114.0" r="1.4" fill="#c4dcc4" stroke="#5f935f" stroke-width="0.9"/>
<circle cx="36.4" cy="135.7" r="1.4" fill="#c4dcc4" stroke="#5f935f" stroke-width="0.9"/>
<circle cx="36.4" cy="140.0" r="1.4" fill="#c4dcc4" stroke="#5f935f" stroke-width="0.9"/>
<circle cx="57.0" cy="93.3" r="1.7" fill="#0c2a12"/>
<path d="M55.2 125.3h3.6M57.0 123.5v3.6" stroke="#8a7a80" stroke-width="0.8"/>
<circle cx="57.0" cy="141.7" r="1.7" fill="#0c2a12"/>
<circle cx="57.0" cy="146.1" r="1.7" fill="#0c2a12"/>
<circle cx="57.0" cy="153.6" r="1.7" fill="#0c2a12"/>
<circle cx="76.9" cy="96.1" r="1.4" fill="#c09aaa" stroke="#8e6376" stroke-width="0.9"/>
<circle cx="76.9" cy="98.0" r="1.4" fill="#c09aaa" stroke="#8e6376" stroke-width="0.9"/>
<circle cx="76.9" cy="102.7" r="1.4" fill="#c09aaa" stroke="#8e6376" stroke-width="0.9"/>
<circle cx="76.9" cy="110.2" r="1.4" fill="#c09aaa" stroke="#8e6376" stroke-width="0.9"/>
<circle cx="76.9" cy="115.5" r="1.4" fill="#c09aaa" stroke="#8e6376" stroke-width="0.9"/>
<circle cx="76.9" cy="117.8" r="1.4" fill="#c09aaa" stroke="#8e6376" stroke-width="0.9"/>
<path d="M75.1 125.3h3.6M76.9 123.5v3.6" stroke="#8a7a80" stroke-width="0.8"/>
<circle cx="76.9" cy="140.0" r="1.4" fill="#c09aaa" stroke="#8e6376" stroke-width="0.9"/>
<circle cx="76.9" cy="146.1" r="1.4" fill="#c09aaa" stroke="#8e6376" stroke-width="0.9"/>
<circle cx="76.9" cy="152.1" r="1.4" fill="#c09aaa" stroke="#8e6376" stroke-width="0.9"/>
<circle cx="76.9" cy="168.1" r="1.4" fill="#c09aaa" stroke="#8e6376" stroke-width="0.9"/>
<circle cx="97.2" cy="32.9" r="1.7" fill="#7a0a18"/>
<circle cx="97.2" cy="41.4" r="1.7" fill="#7a0a18"/>
<circle cx="97.2" cy="44.2" r="1.7" fill="#7a0a18"/>
<circle cx="97.2" cy="47.4" r="1.7" fill="#7a0a18"/>
<circle cx="97.2" cy="62.2" r="1.7" fill="#7a0a18"/>
<path d="M95.4 65.0h3.6M97.2 63.2v3.6" stroke="#8a7a80" stroke-width="0.8"/>
<circle cx="97.2" cy="76.3" r="1.7" fill="#7a0a18"/>
<circle cx="97.2" cy="94.2" r="1.7" fill="#7a0a18"/>
<circle cx="97.2" cy="98.9" r="1.7" fill="#7a0a18"/>
<circle cx="97.2" cy="112.1" r="1.7" fill="#7a0a18"/>
<path d="M76.4 74.2V20.0H85.7M90.7 20.0H97.7V26.0" fill="none" stroke="#555" stroke-width="0.8"/>
<circle cx="88.1" cy="20.0" r="0.9" fill="#111"/>
</svg>
<div class="bbox" style="left:214.8px;top:257.3px;width:114.0px;height:181.5px;"></div>
<div class="bt" style="left:220.0px;top:263.5px;">#&nbsp;1038</div>
<div class="byl" style="left:192.3px;top:262.6px;">0.5</div>
<div class="byl" style="left:192.3px;top:272.1px;">0.45</div>
<div class="byl" style="left:192.3px;top:281.5px;">0.4</div>
<div class="byl" style="left:192.3px;top:291.0px;">0.35</div>
<div class="byl" style="left:192.3px;top:300.5px;">0.3</div>
<div class="byl" style="left:192.3px;top:310.0px;">0.25</div>
<div class="byl" style="left:192.3px;top:319.4px;">0.2</div>
<div class="byl" style="left:192.3px;top:328.9px;">0.15</div>
<div class="byl" style="left:192.3px;top:338.4px;">0.1</div>
<div class="byl" style="left:192.3px;top:347.8px;">0.05</div>
<div class="byl" style="left:192.3px;top:357.3px;">0</div>
<div class="byl" style="left:192.3px;top:366.8px;">-0.05</div>
<div class="byl" style="left:192.3px;top:376.2px;">-0.1</div>
<div class="byl" style="left:192.3px;top:385.7px;">-0.15</div>
<div class="byl" style="left:192.3px;top:395.2px;">-0.2</div>
<div class="byl" style="left:192.3px;top:404.7px;">-0.25</div>
<div class="byl" style="left:192.3px;top:414.1px;">-0.3</div>
<div class="byl" style="left:192.3px;top:423.6px;">-0.35</div>
<div class="byl" style="left:192.3px;top:433.1px;">-0.4</div>
<div class="byt" style="left:199.0px;top:349.0px;">Log Standard Abundance</div>
<div class="bxl" style="left:232.7px;top:439.0px;">M-CLL<br>US</div>
<div class="bxl" style="left:253.5px;top:439.0px;">M-CLL<br>S</div>
<div class="bxl" style="left:273.7px;top:439.0px;">UM-CLL<br>US</div>
<div class="bxl" style="left:295.4px;top:439.0px;">UM-CLL<br>S</div>
<svg class="abs" style="left:214.8px;top:257.3px" width="114.0" height="181.5">
<circle cx="34.7" cy="78.8" r="1.4" fill="#c4dcc4" stroke="#5f935f" stroke-width="0.9"/>
<circle cx="34.7" cy="80.5" r="1.4" fill="#c4dcc4" stroke="#5f935f" stroke-width="0.9"/>
<circle cx="34.7" cy="85.5" r="1.4" fill="#c4dcc4" stroke="#5f935f" stroke-width="0.9"/>
<circle cx="34.7" cy="87.7" r="1.4" fill="#c4dcc4" stroke="#5f935f" stroke-width="0.9"/>
<circle cx="34.7" cy="89.3" r="1.4" fill="#c4dcc4" stroke="#5f935f" stroke-width="0.9"/>
<circle cx="34.7" cy="92.9" r="1.4" fill="#c4dcc4" stroke="#5f935f" stroke-width="0.9"/>
<circle cx="34.7" cy="96.1" r="1.4" fill="#c4dcc4" stroke="#5f935f" stroke-width="0.9"/>
<circle cx="34.7" cy="102.5" r="1.4" fill="#c4dcc4" stroke="#5f935f" stroke-width="0.9"/>
<circle cx="55.0" cy="56.9" r="1.7" fill="#0c2a12"/>
<circle cx="55.0" cy="68.6" r="1.7" fill="#0c2a12"/>
<circle cx="55.0" cy="74.9" r="1.7" fill="#0c2a12"/>
<path d="M53.2 83.8h3.6M55.0 82.0v3.6" stroke="#8a7a80" stroke-width="0.8"/>
<circle cx="55.0" cy="87.2" r="1.7" fill="#0c2a12"/>
<circle cx="55.0" cy="88.5" r="1.7" fill="#0c2a12"/>
<circle cx="55.0" cy="94.7" r="1.7" fill="#0c2a12"/>
<circle cx="55.0" cy="104.6" r="1.7" fill="#0c2a12"/>
<circle cx="74.7" cy="70.5" r="1.4" fill="#c09aaa" stroke="#8e6376" stroke-width="0.9"/>
<circle cx="74.7" cy="74.3" r="1.4" fill="#c09aaa" stroke="#8e6376" stroke-width="0.9"/>
<circle cx="74.7" cy="81.9" r="1.4" fill="#c09aaa" stroke="#8e6376" stroke-width="0.9"/>
<circle cx="74.7" cy="83.8" r="1.4" fill="#c09aaa" stroke="#8e6376" stroke-width="0.9"/>
<circle cx="74.7" cy="86.2" r="1.4" fill="#c09aaa" stroke="#8e6376" stroke-width="0.9"/>
<circle cx="74.7" cy="90.0" r="1.4" fill="#c09aaa" stroke="#8e6376" stroke-width="0.9"/>
<circle cx="74.7" cy="94.7" r="1.4" fill="#c09aaa" stroke="#8e6376" stroke-width="0.9"/>
<circle cx="74.7" cy="99.1" r="1.4" fill="#c09aaa" stroke="#8e6376" stroke-width="0.9"/>
<circle cx="74.7" cy="109.1" r="1.4" fill="#c09aaa" stroke="#8e6376" stroke-width="0.9"/>
<circle cx="95.4" cy="85.5" r="1.7" fill="#7a0a18"/>
<circle cx="95.4" cy="99.1" r="1.7" fill="#7a0a18"/>
<circle cx="95.4" cy="101.0" r="1.7" fill="#7a0a18"/>
<path d="M93.6 106.5h3.6M95.4 104.7v3.6" stroke="#8a7a80" stroke-width="0.8"/>
<circle cx="95.4" cy="109.5" r="1.7" fill="#7a0a18"/>
<circle cx="95.4" cy="114.1" r="1.7" fill="#7a0a18"/>
<circle cx="95.4" cy="122.2" r="1.7" fill="#7a0a18"/>
<circle cx="95.4" cy="124.3" r="1.7" fill="#7a0a18"/>
</svg>
<div class="bbox" style="left:356.6px;top:257.3px;width:115.7px;height:181.5px;"></div>
<div class="bt" style="left:362.5px;top:263.5px;">#&nbsp;1043</div>
<div class="byl" style="left:333.8px;top:262.0px;">0.5</div>
<div class="byl" style="left:333.8px;top:271.5px;">0.45</div>
<div class="byl" style="left:333.8px;top:281.0px;">0.4</div>
<div class="byl" style="left:333.8px;top:290.5px;">0.35</div>
<div class="byl" style="left:333.8px;top:300.0px;">0.3</div>
<div class="byl" style="left:333.8px;top:309.5px;">0.25</div>
<div class="byl" style="left:333.8px;top:319.0px;">0.2</div>
<div class="byl" style="left:333.8px;top:328.5px;">0.15</div>
<div class="byl" style="left:333.8px;top:338.0px;">0.1</div>
<div class="byl" style="left:333.8px;top:347.5px;">0.05</div>
<div class="byl" style="left:333.8px;top:357.0px;">0</div>
<div class="byl" style="left:333.8px;top:366.5px;">-0.05</div>
<div class="byl" style="left:333.8px;top:376.0px;">-0.1</div>
<div class="byl" style="left:333.8px;top:385.5px;">-0.15</div>
<div class="byl" style="left:333.8px;top:395.0px;">-0.2</div>
<div class="byl" style="left:333.8px;top:404.5px;">-0.25</div>
<div class="byl" style="left:333.8px;top:414.0px;">-0.3</div>
<div class="byl" style="left:333.8px;top:423.5px;">-0.35</div>
<div class="byl" style="left:333.8px;top:433.0px;">-0.4</div>
<div class="byt" style="left:340.3px;top:349.0px;">Log Standard Abundance</div>
<div class="bxl" style="left:374.2px;top:439.0px;">M-CLL<br>US</div>
<div class="bxl" style="left:394.2px;top:439.0px;">M-CLL<br>S</div>
<div class="bxl" style="left:415.2px;top:439.0px;">UM-CLL<br>US</div>
<div class="bxl" style="left:437.3px;top:439.0px;">UM-CLL<br>S</div>
<svg class="abs" style="left:356.6px;top:257.3px" width="115.7" height="181.5">
<circle cx="35.4" cy="37.8" r="1.4" fill="#c4dcc4" stroke="#5f935f" stroke-width="0.9"/>
<circle cx="35.4" cy="40.1" r="1.4" fill="#c4dcc4" stroke="#5f935f" stroke-width="0.9"/>
<circle cx="35.4" cy="42.5" r="1.4" fill="#c4dcc4" stroke="#5f935f" stroke-width="0.9"/>
<circle cx="35.4" cy="45.4" r="1.4" fill="#c4dcc4" stroke="#5f935f" stroke-width="0.9"/>
<circle cx="35.4" cy="47.7" r="1.4" fill="#c4dcc4" stroke="#5f935f" stroke-width="0.9"/>
<circle cx="35.4" cy="57.9" r="1.4" fill="#c4dcc4" stroke="#5f935f" stroke-width="0.9"/>
<circle cx="35.4" cy="70.9" r="1.4" fill="#c4dcc4" stroke="#5f935f" stroke-width="0.9"/>
<circle cx="55.4" cy="21.8" r="1.7" fill="#0c2a12"/>
<circle cx="55.4" cy="34.2" r="1.7" fill="#0c2a12"/>
<circle cx="55.4" cy="51.7" r="1.7" fill="#0c2a12"/>
<circle cx="55.4" cy="53.6" r="1.7" fill="#0c2a12"/>
<circle cx="55.4" cy="56.6" r="1.7" fill="#0c2a12"/>
<circle cx="55.4" cy="62.5" r="1.7" fill="#0c2a12"/>
<circle cx="55.4" cy="65.5" r="1.7" fill="#0c2a12"/>
<circle cx="55.4" cy="67.1" r="1.7" fill="#0c2a12"/>
<circle cx="75.7" cy="42.0" r="1.4" fill="#c09aaa" stroke="#8e6376" stroke-width="0.9"/>
<circle cx="75.7" cy="44.8" r="1.4" fill="#c09aaa" stroke="#8e6376" stroke-width="0.9"/>
<circle cx="75.7" cy="53.9" r="1.4" fill="#c09aaa" stroke="#8e6376" stroke-width="0.9"/>
<circle cx="75.7" cy="65.9" r="1.4" fill="#c09aaa" stroke="#8e6376" stroke-width="0.9"/>
<circle cx="75.7" cy="68.0" r="1.4" fill="#c09aaa" stroke="#8e6376" stroke-width="0.9"/>
<circle cx="75.7" cy="70.1" r="1.4" fill="#c09aaa" stroke="#8e6376" stroke-width="0.9"/>
<path d="M73.9 74.1h3.6M75.7 72.3v3.6" stroke="#8a7a80" stroke-width="0.8"/>
<circle cx="75.7" cy="105.4" r="1.4" fill="#c09aaa" stroke="#8e6376" stroke-width="0.9"/>
<circle cx="75.7" cy="112.3" r="1.4" fill="#c09aaa" stroke="#8e6376" stroke-width="0.9"/>
<circle cx="75.7" cy="120.6" r="1.4" fill="#c09aaa" stroke="#8e6376" stroke-width="0.9"/>
<circle cx="95.7" cy="137.6" r="1.7" fill="#7a0a18"/>
<circle cx="95.7" cy="140.0" r="1.7" fill="#7a0a18"/>
<circle cx="95.7" cy="141.5" r="1.7" fill="#7a0a18"/>
<circle cx="95.7" cy="145.9" r="1.7" fill="#7a0a18"/>
<circle cx="95.7" cy="166.2" r="1.7" fill="#7a0a18"/>
<circle cx="95.7" cy="169.3" r="1.7" fill="#7a0a18"/>
</svg>
<div class="side" style="left:3.3px;top:511.8px;">UM-CLL<br>Stimulated</div>
<div class="side" style="left:4.0px;top:618.8px;">UM-CLL<br>Unstimulated</div>
<svg class="abs" style="left:62.6px;top:455.2px" width="136.6" height="123.6" viewBox="0 0 136.6 123.6"><rect width="136.6" height="123.6" fill="#d0d0d0"/><ellipse cx="67.4" cy="14.8" rx="70.0" ry="18.0" fill="#c4c4c4" filter="url(#f8_00)" opacity="0.7"/><ellipse cx="133.4" cy="64.8" rx="4.0" ry="60.0" fill="#bcbcbc" filter="url(#f3_00)" opacity="0.7"/><ellipse cx="26.0" cy="12.2" rx="13.0" ry="7.0" fill="#9c9c9c" filter="url(#f4_00)" opacity="0.55"/><ellipse cx="6.8" cy="7.2" rx="6.6" ry="6.8" fill="#999" filter="url(#f3_97)" opacity="0.33"/><ellipse cx="6.8" cy="7.2" rx="3.3" ry="3.8" fill="#8a8a8a" filter="url(#f1_10)"/><ellipse cx="20.3" cy="7.2" rx="7.6" ry="7.7" fill="#999" filter="url(#f4_42)" opacity="0.33"/><ellipse cx="20.3" cy="7.2" rx="3.8" ry="4.3" fill="#3a3a3a" filter="url(#f1_10)"/><ellipse cx="20.3" cy="7.2" rx="0.8" ry="0.8" fill="#c4c4c4" filter="url(#f0_50)"/><ellipse cx="31.7" cy="7.2" rx="7.2" ry="7.7" fill="#999" filter="url(#f4_24)" opacity="0.33"/><ellipse cx="31.7" cy="7.2" rx="3.6" ry="4.3" fill="#333" filter="url(#f1_10)"/><ellipse cx="31.7" cy="7.2" rx="0.8" ry="0.8" fill="#c4c4c4" filter="url(#f0_50)"/><ellipse cx="43.8" cy="7.4" rx="5.2" ry="8.3" fill="#999" filter="url(#f3_34)" opacity="0.33"/><ellipse cx="43.8" cy="7.4" rx="2.6" ry="4.6" fill="#7d7d7d" filter="url(#f1_10)"/><ellipse cx="56.6" cy="8.3" rx="4.0" ry="6.1" fill="#999" filter="url(#f2_80)" opacity="0.33"/><ellipse cx="56.6" cy="8.3" rx="2.0" ry="3.4" fill="#aaa" filter="url(#f1_10)"/><ellipse cx="33.0" cy="32.2" rx="12.2" ry="22.3" fill="#8c8c8c" filter="url(#f4_00)" opacity="0.6"/><path d="M30.6 11.7 L30.3 16.3 L28.4 22.1 L26.9 28.6 L26.6 33.4 L27.8 39.6 L30.1 44.9 L32.0 48.8 L34.0 48.8 L35.9 44.9 L38.2 39.6 L39.4 33.4 L39.1 28.6 L37.6 22.1 L35.1 16.3 L34.2 11.7Z" fill="#000" filter="url(#f1_20)"/><ellipse cx="32.7" cy="25.8" rx="0.8" ry="0.8" fill="#aaa" filter="url(#f0_40)"/><ellipse cx="32.7" cy="36.3" rx="0.8" ry="0.8" fill="#aaa" filter="url(#f0_40)"/><ellipse cx="33.0" cy="51.9" rx="1.5" ry="4.1" fill="#666" filter="url(#f1_00)"/><ellipse cx="33.3" cy="55.0" rx="6.0" ry="5.4" fill="#888" filter="url(#f3_70)" opacity="0.33"/><ellipse cx="33.3" cy="55.0" rx="3.0" ry="3.0" fill="#111" filter="url(#f1_00)"/><ellipse cx="33.0" cy="69.5" rx="4.0" ry="5.4" fill="#888" filter="url(#f2_80)" opacity="0.33"/><ellipse cx="33.0" cy="69.5" rx="2.0" ry="3.0" fill="#333" filter="url(#f1_00)"/><ellipse cx="114.5" cy="69.8" rx="6.4" ry="7.2" fill="#888" filter="url(#f3_88)" opacity="0.33"/><ellipse cx="114.5" cy="69.8" rx="3.2" ry="4.0" fill="#000" filter="url(#f1_00)"/><ellipse cx="129.6" cy="65.8" rx="7.0" ry="9.4" fill="#888" filter="url(#f4_15)" opacity="0.33"/><ellipse cx="129.6" cy="65.8" rx="3.5" ry="5.2" fill="#000" filter="url(#f1_00)"/><ellipse cx="115.7" cy="94.8" rx="6.0" ry="7.7" fill="#888" filter="url(#f3_70)" opacity="0.33"/><ellipse cx="115.7" cy="94.8" rx="3.0" ry="4.3" fill="#000" filter="url(#f1_00)"/><ellipse cx="107.1" cy="94.8" rx="5.0" ry="6.3" fill="#888" filter="url(#f3_25)" opacity="0.33"/><ellipse cx="107.1" cy="94.8" rx="2.5" ry="3.5" fill="#7a7a7a" filter="url(#f1_00)"/><ellipse cx="123.5" cy="90.9" rx="4.0" ry="3.6" fill="#888" filter="url(#f2_80)" opacity="0.33"/><ellipse cx="123.5" cy="90.9" rx="2.0" ry="2.0" fill="#a0a0a0" filter="url(#f1_00)"/><ellipse cx="132.2" cy="32.1" rx="8.0" ry="9.0" fill="#888" filter="url(#f4_60)" opacity="0.33"/><ellipse cx="132.2" cy="32.1" rx="4.0" ry="5.0" fill="#666" filter="url(#f1_00)"/><ellipse cx="127.8" cy="110.8" rx="4.0" ry="7.2" fill="#888" filter="url(#f2_80)" opacity="0.33"/><ellipse cx="127.8" cy="110.8" rx="2.0" ry="4.0" fill="#b8b8b8" filter="url(#f1_00)"/><ellipse cx="38.4" cy="114.8" rx="9.5" ry="6.7" fill="#777" filter="url(#f5_26)" opacity="0.44000000000000006"/><ellipse cx="38.4" cy="114.8" rx="4.7" ry="3.7" fill="#000" filter="url(#f1_10)"/><circle cx="12.2" cy="77.1" r="1.2" fill="#111" filter="url(#f0_40)"/><ellipse cx="74.4" cy="56.3" rx="21.0" ry="3.5" fill="#8c948c" filter="url(#f2_50)" opacity="0.8"/><ellipse cx="63.4" cy="46.3" rx="16.0" ry="3.0" fill="#a9b0a9" filter="url(#f2_50)" opacity="0.8"/><ellipse cx="121.9" cy="32.1" rx="14.5" ry="3.0" fill="#a9aea9" filter="url(#f2_50)" opacity="0.8"/><ellipse cx="51.7" cy="46.3" rx="6.0" ry="4.3" fill="#999" filter="url(#f3_70)" opacity="0.165"/><ellipse cx="51.7" cy="46.3" rx="3.0" ry="2.4" fill="#66806a" filter="url(#f1_00)"/><ellipse cx="58.6" cy="46.3" rx="6.0" ry="4.3" fill="#999" filter="url(#f3_70)" opacity="0.165"/><ellipse cx="58.6" cy="46.3" rx="3.0" ry="2.4" fill="#607a64" filter="url(#f1_00)"/><ellipse cx="65.6" cy="46.3" rx="6.0" ry="4.3" fill="#999" filter="url(#f3_70)" opacity="0.165"/><ellipse cx="65.6" cy="46.3" rx="3.0" ry="2.4" fill="#66806a" filter="url(#f1_00)"/><ellipse cx="74.2" cy="46.3" rx="5.2" ry="4.3" fill="#999" filter="url(#f3_34)" opacity="0.165"/><ellipse cx="74.2" cy="46.3" rx="2.6" ry="2.4" fill="#7a907c" filter="url(#f1_00)"/><ellipse cx="57.8" cy="56.3" rx="4.8" ry="4.0" fill="#999" filter="url(#f3_16)" opacity="0.165"/><ellipse cx="57.8" cy="56.3" rx="2.4" ry="2.2" fill="#8a9a8a" filter="url(#f1_00)"/><ellipse cx="74.2" cy="56.3" rx="7.2" ry="5.4" fill="#999" filter="url(#f4_24)" opacity="0.165"/><ellipse cx="74.2" cy="56.3" rx="3.6" ry="3.0" fill="#0a0f0a" filter="url(#f1_00)"/><ellipse cx="80.6" cy="56.3" rx="7.0" ry="5.2" fill="#999" filter="url(#f4_15)" opacity="0.165"/><ellipse cx="80.6" cy="56.3" rx="3.5" ry="2.9" fill="#1a221a" filter="url(#f1_00)"/><ellipse cx="88.9" cy="56.3" rx="5.2" ry="4.0" fill="#999" filter="url(#f3_34)" opacity="0.165"/><ellipse cx="88.9" cy="56.3" rx="2.6" ry="2.2" fill="#8a8a8a" filter="url(#f1_00)"/><ellipse cx="110.5" cy="32.1" rx="4.0" ry="3.6" fill="#999" filter="url(#f2_80)" opacity="0.165"/><ellipse cx="110.5" cy="32.1" rx="2.0" ry="2.0" fill="#7a8a7a" filter="url(#f1_00)"/><ellipse cx="116.6" cy="32.1" rx="4.0" ry="3.6" fill="#999" filter="url(#f2_80)" opacity="0.165"/><ellipse cx="116.6" cy="32.1" rx="2.0" ry="2.0" fill="#7a8a7a" filter="url(#f1_00)"/><ellipse cx="122.7" cy="32.1" rx="4.0" ry="3.6" fill="#999" filter="url(#f2_80)" opacity="0.165"/><ellipse cx="122.7" cy="32.1" rx="2.0" ry="2.0" fill="#7a8a7a" filter="url(#f1_00)"/><circle cx="123.9" cy="11.3" r="2.0" fill="#4ccc4c" opacity="0.16" filter="url(#f0_60)"/><circle cx="123.9" cy="11.3" r="0.6" fill="#225a22" filter="url(#f0_30)"/><circle cx="74.2" cy="56.3" r="2.0" fill="#4ccc4c" opacity="0.16" filter="url(#f0_60)"/><circle cx="74.2" cy="56.3" r="0.6" fill="#225a22" filter="url(#f0_30)"/><circle cx="80.6" cy="56.3" r="2.0" fill="#4ccc4c" opacity="0.16" filter="url(#f0_60)"/><circle cx="80.6" cy="56.3" r="0.6" fill="#225a22" filter="url(#f0_30)"/><circle cx="88.9" cy="56.3" r="2.0" fill="#4ccc4c" opacity="0.16" filter="url(#f0_60)"/><circle cx="88.9" cy="56.3" r="0.6" fill="#225a22" filter="url(#f0_30)"/><circle cx="108.0" cy="38.2" r="2.0" fill="#4ccc4c" opacity="0.16" filter="url(#f0_60)"/><circle cx="108.0" cy="38.2" r="0.6" fill="#225a22" filter="url(#f0_30)"/><circle cx="58.6" cy="17.4" r="0.8" fill="#555" filter="url(#f0_40)"/><circle cx="82.9" cy="21.7" r="0.8" fill="#555" filter="url(#f0_40)"/><circle cx="66.4" cy="30.0" r="0.8" fill="#555" filter="url(#f0_40)"/><circle cx="74.7" cy="30.8" r="0.8" fill="#555" filter="url(#f0_40)"/><circle cx="83.7" cy="33.8" r="0.8" fill="#555" filter="url(#f0_40)"/><circle cx="109.7" cy="24.8" r="0.8" fill="#555" filter="url(#f0_40)"/><circle cx="98.4" cy="57.2" r="0.8" fill="#555" filter="url(#f0_40)"/><circle cx="107.1" cy="57.2" r="0.8" fill="#555" filter="url(#f0_40)"/><circle cx="107.1" cy="68.8" r="0.8" fill="#555" filter="url(#f0_40)"/><circle cx="127.0" cy="83.1" r="0.8" fill="#555" filter="url(#f0_40)"/><circle cx="117.4" cy="114.3" r="0.8" fill="#555" filter="url(#f0_40)"/><rect x="61.2" y="51.3" width="8.8" height="10.2" fill="#e888e8" opacity="0.6" filter="url(#f0_60)"/><rect x="62.2" y="52.3" width="6.8" height="8.2" fill="none" stroke="#f4c4f4" stroke-width="0.8" opacity="0.7"/><ellipse cx="65.6" cy="56.4" rx="2.6" ry="2.6" fill="#1a0a1a" filter="url(#f0_60)"/><ellipse cx="65.6" cy="56.4" rx="0.8" ry="0.8" fill="#c4c4c4" filter="url(#f0_50)"/><text x="65.4" y="74.2" font-family='"Liberation Sans", sans-serif' font-size="6.4" font-weight="bold" fill="#111" text-anchor="middle">#&#160;1032</text></svg>
<svg class="abs" style="left:202.9px;top:455.2px" width="132.9" height="123.6" viewBox="0 0 132.9 123.6"><rect width="132.9" height="123.6" fill="#d0d0d0"/><ellipse cx="67.1" cy="14.8" rx="70.0" ry="18.0" fill="#c4c4c4" filter="url(#f8_00)" opacity="0.7"/><ellipse cx="130.1" cy="64.8" rx="4.0" ry="60.0" fill="#bcbcbc" filter="url(#f3_00)" opacity="0.7"/><ellipse cx="22.3" cy="11.5" rx="13.0" ry="7.0" fill="#9c9c9c" filter="url(#f4_00)" opacity="0.55"/><ellipse cx="3.1" cy="6.5" rx="5.6" ry="6.3" fill="#999" filter="url(#f3_52)" opacity="0.33"/><ellipse cx="3.1" cy="6.5" rx="2.8" ry="3.5" fill="#a5a5a5" filter="url(#f1_10)"/><ellipse cx="16.6" cy="6.5" rx="7.6" ry="7.7" fill="#999" filter="url(#f4_42)" opacity="0.33"/><ellipse cx="16.6" cy="6.5" rx="3.8" ry="4.3" fill="#3a3a3a" filter="url(#f1_10)"/><ellipse cx="16.6" cy="6.5" rx="0.8" ry="0.8" fill="#c4c4c4" filter="url(#f0_50)"/><ellipse cx="28.0" cy="6.5" rx="7.2" ry="7.7" fill="#999" filter="url(#f4_24)" opacity="0.33"/><ellipse cx="28.0" cy="6.5" rx="3.6" ry="4.3" fill="#333" filter="url(#f1_10)"/><ellipse cx="28.0" cy="6.5" rx="0.8" ry="0.8" fill="#c4c4c4" filter="url(#f0_50)"/><ellipse cx="39.5" cy="6.8" rx="5.6" ry="8.3" fill="#999" filter="url(#f3_52)" opacity="0.33"/><ellipse cx="39.5" cy="6.8" rx="2.8" ry="4.6" fill="#7d7d7d" filter="url(#f1_10)"/><ellipse cx="52.9" cy="7.8" rx="4.0" ry="6.1" fill="#999" filter="url(#f2_80)" opacity="0.33"/><ellipse cx="52.9" cy="7.8" rx="2.0" ry="3.4" fill="#b0b0b0" filter="url(#f1_10)"/><ellipse cx="29.8" cy="30.7" rx="11.5" ry="21.2" fill="#8c8c8c" filter="url(#f4_00)" opacity="0.6"/><path d="M27.4 11.0 L27.1 16.8 L25.4 22.5 L24.1 28.7 L23.7 33.4 L24.8 38.6 L27.1 43.1 L28.8 46.3 L30.8 46.3 L32.5 43.1 L34.8 38.6 L35.8 33.4 L35.5 28.7 L34.2 22.5 L31.9 16.8 L31.0 11.0Z" fill="#000" filter="url(#f1_20)"/><ellipse cx="29.5" cy="25.8" rx="0.8" ry="0.8" fill="#aaa" filter="url(#f0_40)"/><ellipse cx="29.5" cy="35.8" rx="0.8" ry="0.8" fill="#aaa" filter="url(#f0_40)"/><ellipse cx="29.8" cy="50.3" rx="1.5" ry="5.0" fill="#666" filter="url(#f1_00)"/><ellipse cx="29.8" cy="54.3" rx="6.0" ry="5.4" fill="#888" filter="url(#f3_70)" opacity="0.33"/><ellipse cx="29.8" cy="54.3" rx="3.0" ry="3.0" fill="#111" filter="url(#f1_00)"/><ellipse cx="30.1" cy="69.3" rx="4.0" ry="5.4" fill="#888" filter="url(#f2_80)" opacity="0.33"/><ellipse cx="30.1" cy="69.3" rx="2.0" ry="3.0" fill="#333" filter="url(#f1_00)"/><ellipse cx="111.1" cy="68.8" rx="6.4" ry="8.1" fill="#888" filter="url(#f3_88)" opacity="0.33"/><ellipse cx="111.1" cy="68.8" rx="3.2" ry="4.5" fill="#000" filter="url(#f1_00)"/><ellipse cx="125.8" cy="65.8" rx="7.6" ry="9.9" fill="#888" filter="url(#f4_42)" opacity="0.33"/><ellipse cx="125.8" cy="65.8" rx="3.8" ry="5.5" fill="#000" filter="url(#f1_00)"/><ellipse cx="111.5" cy="94.8" rx="6.0" ry="7.7" fill="#888" filter="url(#f3_70)" opacity="0.33"/><ellipse cx="111.5" cy="94.8" rx="3.0" ry="4.3" fill="#000" filter="url(#f1_00)"/><ellipse cx="103.3" cy="94.8" rx="5.0" ry="6.3" fill="#888" filter="url(#f3_25)" opacity="0.33"/><ellipse cx="103.3" cy="94.8" rx="2.5" ry="3.5" fill="#7a7a7a" filter="url(#f1_00)"/><ellipse cx="120.6" cy="90.8" rx="4.0" ry="3.6" fill="#888" filter="url(#f2_80)" opacity="0.33"/><ellipse cx="120.6" cy="90.8" rx="2.0" ry="2.0" fill="#a0a0a0" filter="url(#f1_00)"/><ellipse cx="129.3" cy="32.1" rx="8.0" ry="9.0" fill="#888" filter="url(#f4_60)" opacity="0.33"/><ellipse cx="129.3" cy="32.1" rx="4.0" ry="5.0" fill="#555" filter="url(#f1_00)"/><ellipse cx="125.1" cy="110.8" rx="4.0" ry="7.2" fill="#888" filter="url(#f2_80)" opacity="0.33"/><ellipse cx="125.1" cy="110.8" rx="2.0" ry="4.0" fill="#b8b8b8" filter="url(#f1_00)"/><ellipse cx="35.3" cy="113.8" rx="9.9" ry="6.9" fill="#777" filter="url(#f5_46)" opacity="0.44000000000000006"/><ellipse cx="35.3" cy="113.8" rx="5.0" ry="3.9" fill="#000" filter="url(#f1_10)"/><circle cx="9.4" cy="76.5" r="1.2" fill="#111" filter="url(#f0_40)"/><ellipse cx="70.1" cy="56.0" rx="21.0" ry="3.5" fill="#888" filter="url(#f2_50)" opacity="0.8"/><ellipse cx="62.1" cy="46.3" rx="19.0" ry="3.0" fill="#a5a5a5" filter="url(#f2_50)" opacity="0.8"/><ellipse cx="117.6" cy="32.1" rx="15.5" ry="3.0" fill="#a9aea9" filter="url(#f2_50)" opacity="0.8"/><ellipse cx="48.8" cy="46.3" rx="6.0" ry="4.3" fill="#999" filter="url(#f3_70)" opacity="0.165"/><ellipse cx="48.8" cy="46.3" rx="3.0" ry="2.4" fill="#555" filter="url(#f1_00)"/><ellipse cx="54.9" cy="46.3" rx="6.0" ry="4.3" fill="#999" filter="url(#f3_70)" opacity="0.165"/><ellipse cx="54.9" cy="46.3" rx="3.0" ry="2.4" fill="#4a4a4a" filter="url(#f1_00)"/><ellipse cx="62.3" cy="46.3" rx="6.0" ry="4.3" fill="#999" filter="url(#f3_70)" opacity="0.165"/><ellipse cx="62.3" cy="46.3" rx="3.0" ry="2.4" fill="#555" filter="url(#f1_00)"/><ellipse cx="70.5" cy="42.8" rx="4.8" ry="4.3" fill="#999" filter="url(#f3_16)" opacity="0.165"/><ellipse cx="70.5" cy="42.8" rx="2.4" ry="2.4" fill="#7a8a7a" filter="url(#f1_00)"/><ellipse cx="78.2" cy="41.8" rx="4.8" ry="4.3" fill="#999" filter="url(#f3_16)" opacity="0.165"/><ellipse cx="78.2" cy="41.8" rx="2.4" ry="2.4" fill="#7a8a7a" filter="url(#f1_00)"/><ellipse cx="55.8" cy="56.0" rx="6.4" ry="5.0" fill="#999" filter="url(#f3_88)" opacity="0.165"/><ellipse cx="55.8" cy="56.0" rx="3.2" ry="2.8" fill="#333" filter="url(#f1_00)"/><ellipse cx="62.7" cy="56.0" rx="7.0" ry="5.4" fill="#999" filter="url(#f4_15)" opacity="0.165"/><ellipse cx="62.7" cy="56.0" rx="3.5" ry="3.0" fill="#111" filter="url(#f1_00)"/><ellipse cx="69.6" cy="56.0" rx="7.2" ry="5.4" fill="#999" filter="url(#f4_24)" opacity="0.165"/><ellipse cx="69.6" cy="56.0" rx="3.6" ry="3.0" fill="#080808" filter="url(#f1_00)"/><ellipse cx="86.5" cy="56.0" rx="5.2" ry="4.1" fill="#999" filter="url(#f3_34)" opacity="0.165"/><ellipse cx="86.5" cy="56.0" rx="2.6" ry="2.3" fill="#999" filter="url(#f1_00)"/><ellipse cx="106.8" cy="32.1" rx="4.0" ry="3.6" fill="#999" filter="url(#f2_80)" opacity="0.165"/><ellipse cx="106.8" cy="32.1" rx="2.0" ry="2.0" fill="#777" filter="url(#f1_00)"/><ellipse cx="112.8" cy="32.1" rx="4.0" ry="3.6" fill="#999" filter="url(#f2_80)" opacity="0.165"/><ellipse cx="112.8" cy="32.1" rx="2.0" ry="2.0" fill="#777" filter="url(#f1_00)"/><ellipse cx="118.9" cy="32.1" rx="4.0" ry="3.6" fill="#999" filter="url(#f2_80)" opacity="0.165"/><ellipse cx="118.9" cy="32.1" rx="2.0" ry="2.0" fill="#777" filter="url(#f1_00)"/><circle cx="70.5" cy="42.8" r="2.0" fill="#4ccc4c" opacity="0.16" filter="url(#f0_60)"/><circle cx="70.5" cy="42.8" r="0.6" fill="#225a22" filter="url(#f0_30)"/><circle cx="78.2" cy="41.8" r="2.0" fill="#4ccc4c" opacity="0.16" filter="url(#f0_60)"/><circle cx="78.2" cy="41.8" r="0.6" fill="#225a22" filter="url(#f0_30)"/><circle cx="127.1" cy="12.8" r="2.0" fill="#4ccc4c" opacity="0.16" filter="url(#f0_60)"/><circle cx="127.1" cy="12.8" r="0.6" fill="#225a22" filter="url(#f0_30)"/><circle cx="63.5" cy="29.5" r="0.8" fill="#555" filter="url(#f0_40)"/><circle cx="71.3" cy="30.4" r="0.8" fill="#555" filter="url(#f0_40)"/><circle cx="79.1" cy="21.7" r="0.8" fill="#555" filter="url(#f0_40)"/><circle cx="79.6" cy="33.0" r="0.8" fill="#555" filter="url(#f0_40)"/><circle cx="106.8" cy="23.5" r="0.8" fill="#555" filter="url(#f0_40)"/><circle cx="104.2" cy="37.3" r="0.8" fill="#555" filter="url(#f0_40)"/><circle cx="94.7" cy="57.2" r="0.8" fill="#555" filter="url(#f0_40)"/><circle cx="103.3" cy="57.2" r="0.8" fill="#555" filter="url(#f0_40)"/><circle cx="123.2" cy="81.9" r="0.8" fill="#555" filter="url(#f0_40)"/><circle cx="113.7" cy="114.3" r="0.8" fill="#555" filter="url(#f0_40)"/><circle cx="54.9" cy="16.5" r="0.8" fill="#555" filter="url(#f0_40)"/><rect x="73.4" y="51.5" width="10.4" height="10" fill="#e888e8" opacity="0.6" filter="url(#f0_60)"/><rect x="74.4" y="52.5" width="8.4" height="8.0" fill="none" stroke="#f4c4f4" stroke-width="0.8" opacity="0.7"/><ellipse cx="78.6" cy="56.5" rx="2.6" ry="2.6" fill="#1a0a1a" filter="url(#f0_60)"/><ellipse cx="78.6" cy="56.5" rx="0.8" ry="0.8" fill="#c4c4c4" filter="url(#f0_50)"/><text x="73.5" y="74.2" font-family='"Liberation Sans", sans-serif' font-size="6.4" font-weight="bold" fill="#111" text-anchor="middle">#&#160;1038</text></svg>
<svg class="abs" style="left:340px;top:456px" width="132.2" height="122.7" viewBox="0 0 132.2 122.7"><rect width="132.2" height="122.7" fill="#d0d0d0"/><ellipse cx="65.0" cy="14.0" rx="70.0" ry="18.0" fill="#c4c4c4" filter="url(#f8_00)" opacity="0.7"/><ellipse cx="129.0" cy="69.0" rx="5.0" ry="60.0" fill="#b0b0b0" filter="url(#f3_00)" opacity="0.8"/><ellipse cx="24.4" cy="12.3" rx="13.0" ry="7.0" fill="#9c9c9c" filter="url(#f4_00)" opacity="0.55"/><ellipse cx="6.1" cy="7.3" rx="6.6" ry="6.8" fill="#999" filter="url(#f3_97)" opacity="0.33"/><ellipse cx="6.1" cy="7.3" rx="3.3" ry="3.8" fill="#999" filter="url(#f1_10)"/><ellipse cx="18.9" cy="7.3" rx="7.6" ry="7.7" fill="#999" filter="url(#f4_42)" opacity="0.33"/><ellipse cx="18.9" cy="7.3" rx="3.8" ry="4.3" fill="#444" filter="url(#f1_10)"/><ellipse cx="18.9" cy="7.3" rx="0.8" ry="0.8" fill="#c4c4c4" filter="url(#f0_50)"/><ellipse cx="30.0" cy="7.3" rx="7.2" ry="7.7" fill="#999" filter="url(#f4_24)" opacity="0.33"/><ellipse cx="30.0" cy="7.3" rx="3.6" ry="4.3" fill="#333" filter="url(#f1_10)"/><ellipse cx="30.0" cy="7.3" rx="0.8" ry="0.8" fill="#c4c4c4" filter="url(#f0_50)"/><ellipse cx="41.3" cy="7.5" rx="5.6" ry="7.9" fill="#999" filter="url(#f3_52)" opacity="0.33"/><ellipse cx="41.3" cy="7.5" rx="2.8" ry="4.4" fill="#8a8088" filter="url(#f1_10)"/><ellipse cx="54.5" cy="8.5" rx="4.0" ry="6.1" fill="#999" filter="url(#f2_80)" opacity="0.33"/><ellipse cx="54.5" cy="8.5" rx="2.0" ry="3.4" fill="#b5b5b5" filter="url(#f1_10)"/><ellipse cx="31.4" cy="32.4" rx="12.7" ry="22.3" fill="#8c8c8c" filter="url(#f4_00)" opacity="0.6"/><path d="M29.0 11.8 L28.7 14.0 L26.6 20.4 L25.0 27.6 L24.7 33.0 L25.9 39.4 L28.4 45.0 L30.4 49.0 L32.4 49.0 L34.4 45.0 L36.9 39.4 L38.1 33.0 L37.8 27.6 L36.2 20.4 L33.5 14.0 L32.6 11.8Z" fill="#000" filter="url(#f1_20)"/><ellipse cx="31.1" cy="26.0" rx="0.8" ry="0.8" fill="#aaa" filter="url(#f0_40)"/><ellipse cx="31.1" cy="36.5" rx="0.8" ry="0.8" fill="#aaa" filter="url(#f0_40)"/><ellipse cx="31.4" cy="51.6" rx="1.5" ry="3.6" fill="#666" filter="url(#f1_00)"/><ellipse cx="31.6" cy="54.2" rx="6.0" ry="5.4" fill="#888" filter="url(#f3_70)" opacity="0.33"/><ellipse cx="31.6" cy="54.2" rx="3.0" ry="3.0" fill="#111" filter="url(#f1_00)"/><ellipse cx="32.0" cy="67.5" rx="4.0" ry="5.4" fill="#888" filter="url(#f2_80)" opacity="0.33"/><ellipse cx="32.0" cy="67.5" rx="2.0" ry="3.0" fill="#333" filter="url(#f1_00)"/><ellipse cx="111.6" cy="68.5" rx="6.4" ry="7.7" fill="#888" filter="url(#f3_88)" opacity="0.33"/><ellipse cx="111.6" cy="68.5" rx="3.2" ry="4.3" fill="#000" filter="url(#f1_00)"/><ellipse cx="126.7" cy="65.6" rx="7.0" ry="9.9" fill="#888" filter="url(#f4_15)" opacity="0.33"/><ellipse cx="126.7" cy="65.6" rx="3.5" ry="5.5" fill="#000" filter="url(#f1_00)"/><ellipse cx="112.5" cy="94.0" rx="6.4" ry="7.7" fill="#888" filter="url(#f3_88)" opacity="0.33"/><ellipse cx="112.5" cy="94.0" rx="3.2" ry="4.3" fill="#000" filter="url(#f1_00)"/><ellipse cx="104.7" cy="94.0" rx="5.0" ry="6.3" fill="#888" filter="url(#f3_25)" opacity="0.33"/><ellipse cx="104.7" cy="94.0" rx="2.5" ry="3.5" fill="#777" filter="url(#f1_00)"/><ellipse cx="120.8" cy="90.0" rx="4.0" ry="3.6" fill="#888" filter="url(#f2_80)" opacity="0.33"/><ellipse cx="120.8" cy="90.0" rx="2.0" ry="2.0" fill="#999" filter="url(#f1_00)"/><ellipse cx="118.5" cy="64.2" rx="4.0" ry="5.4" fill="#888" filter="url(#f2_80)" opacity="0.33"/><ellipse cx="118.5" cy="64.2" rx="2.0" ry="3.0" fill="#bbb" filter="url(#f1_00)"/><ellipse cx="129.4" cy="32.2" rx="8.0" ry="10.8" fill="#888" filter="url(#f4_60)" opacity="0.33"/><ellipse cx="129.4" cy="32.2" rx="4.0" ry="6.0" fill="#666" filter="url(#f1_00)"/><ellipse cx="36.8" cy="113.0" rx="9.9" ry="6.9" fill="#777" filter="url(#f5_46)" opacity="0.44000000000000006"/><ellipse cx="36.8" cy="113.0" rx="5.0" ry="3.9" fill="#000" filter="url(#f1_10)"/><circle cx="11.2" cy="76.3" r="1.2" fill="#111" filter="url(#f0_40)"/><ellipse cx="73.0" cy="56.0" rx="19.0" ry="3.5" fill="#8a8a8a" filter="url(#f2_50)" opacity="0.8"/><ellipse cx="61.0" cy="46.0" rx="15.0" ry="3.0" fill="#a5a5a5" filter="url(#f2_50)" opacity="0.8"/><ellipse cx="118.5" cy="32.2" rx="13.5" ry="3.0" fill="#a9aea9" filter="url(#f2_50)" opacity="0.8"/><ellipse cx="49.3" cy="46.0" rx="6.0" ry="4.3" fill="#999" filter="url(#f3_70)" opacity="0.165"/><ellipse cx="49.3" cy="46.0" rx="3.0" ry="2.4" fill="#555" filter="url(#f1_00)"/><ellipse cx="56.2" cy="46.0" rx="6.0" ry="4.3" fill="#999" filter="url(#f3_70)" opacity="0.165"/><ellipse cx="56.2" cy="46.0" rx="3.0" ry="2.4" fill="#444" filter="url(#f1_00)"/><ellipse cx="63.2" cy="46.0" rx="6.0" ry="4.3" fill="#999" filter="url(#f3_70)" opacity="0.165"/><ellipse cx="63.2" cy="46.0" rx="3.0" ry="2.4" fill="#555" filter="url(#f1_00)"/><ellipse cx="71.8" cy="44.0" rx="5.2" ry="4.3" fill="#999" filter="url(#f3_34)" opacity="0.165"/><ellipse cx="71.8" cy="44.0" rx="2.6" ry="2.4" fill="#777" filter="url(#f1_00)"/><ellipse cx="72.7" cy="40.8" rx="4.0" ry="3.6" fill="#999" filter="url(#f2_80)" opacity="0.165"/><ellipse cx="72.7" cy="40.8" rx="2.0" ry="2.0" fill="#999" filter="url(#f1_00)"/><ellipse cx="79.6" cy="40.8" rx="4.0" ry="3.6" fill="#999" filter="url(#f2_80)" opacity="0.165"/><ellipse cx="79.6" cy="40.8" rx="2.0" ry="2.0" fill="#999" filter="url(#f1_00)"/><ellipse cx="57.5" cy="56.0" rx="6.0" ry="4.7" fill="#999" filter="url(#f3_70)" opacity="0.165"/><ellipse cx="57.5" cy="56.0" rx="3.0" ry="2.6" fill="#555" filter="url(#f1_00)"/><ellipse cx="64.0" cy="56.0" rx="7.2" ry="5.4" fill="#999" filter="url(#f4_24)" opacity="0.165"/><ellipse cx="64.0" cy="56.0" rx="3.6" ry="3.0" fill="#080808" filter="url(#f1_00)"/><ellipse cx="71.0" cy="56.0" rx="7.2" ry="5.4" fill="#999" filter="url(#f4_24)" opacity="0.165"/><ellipse cx="71.0" cy="56.0" rx="3.6" ry="3.0" fill="#080808" filter="url(#f1_00)"/><ellipse cx="78.7" cy="56.0" rx="7.0" ry="5.4" fill="#999" filter="url(#f4_15)" opacity="0.165"/><ellipse cx="78.7" cy="56.0" rx="3.5" ry="3.0" fill="#151515" filter="url(#f1_00)"/><ellipse cx="86.5" cy="56.0" rx="5.2" ry="4.3" fill="#999" filter="url(#f3_34)" opacity="0.165"/><ellipse cx="86.5" cy="56.0" rx="2.6" ry="2.4" fill="#888" filter="url(#f1_00)"/><ellipse cx="108.1" cy="32.2" rx="4.0" ry="3.6" fill="#999" filter="url(#f2_80)" opacity="0.165"/><ellipse cx="108.1" cy="32.2" rx="2.0" ry="2.0" fill="#777" filter="url(#f1_00)"/><ellipse cx="114.2" cy="32.2" rx="4.0" ry="3.6" fill="#999" filter="url(#f2_80)" opacity="0.165"/><ellipse cx="114.2" cy="32.2" rx="2.0" ry="2.0" fill="#777" filter="url(#f1_00)"/><ellipse cx="119.7" cy="32.2" rx="4.0" ry="3.6" fill="#999" filter="url(#f2_80)" opacity="0.165"/><ellipse cx="119.7" cy="32.2" rx="2.0" ry="2.0" fill="#777" filter="url(#f1_00)"/><circle cx="86.5" cy="56.0" r="2.0" fill="#4ccc4c" opacity="0.16" filter="url(#f0_60)"/><circle cx="86.5" cy="56.0" r="0.6" fill="#225a22" filter="url(#f0_30)"/><circle cx="104.7" cy="56.9" r="2.0" fill="#4ccc4c" opacity="0.16" filter="url(#f0_60)"/><circle cx="104.7" cy="56.9" r="0.6" fill="#225a22" filter="url(#f0_30)"/><circle cx="108.1" cy="32.2" r="2.0" fill="#4ccc4c" opacity="0.16" filter="url(#f0_60)"/><circle cx="108.1" cy="32.2" r="0.6" fill="#225a22" filter="url(#f0_30)"/><circle cx="114.2" cy="32.2" r="2.0" fill="#4ccc4c" opacity="0.16" filter="url(#f0_60)"/><circle cx="114.2" cy="32.2" r="0.6" fill="#225a22" filter="url(#f0_30)"/><circle cx="126.0" cy="14.0" r="2.0" fill="#4ccc4c" opacity="0.16" filter="url(#f0_60)"/><circle cx="126.0" cy="14.0" r="0.6" fill="#225a22" filter="url(#f0_30)"/><circle cx="56.2" cy="16.6" r="0.8" fill="#555" filter="url(#f0_40)"/><circle cx="80.5" cy="21.8" r="0.8" fill="#555" filter="url(#f0_40)"/><circle cx="64.0" cy="29.2" r="0.8" fill="#555" filter="url(#f0_40)"/><circle cx="72.3" cy="30.4" r="0.8" fill="#555" filter="url(#f0_40)"/><circle cx="81.0" cy="33.9" r="0.8" fill="#555" filter="url(#f0_40)"/><circle cx="107.3" cy="24.4" r="0.8" fill="#555" filter="url(#f0_40)"/><circle cx="104.7" cy="38.2" r="0.8" fill="#555" filter="url(#f0_40)"/><circle cx="104.7" cy="67.3" r="0.8" fill="#555" filter="url(#f0_40)"/><circle cx="124.9" cy="82.3" r="0.8" fill="#555" filter="url(#f0_40)"/><circle cx="115.1" cy="113.0" r="0.8" fill="#555" filter="url(#f0_40)"/><rect x="91.3" y="51.6" width="13" height="13" rx="3.9" fill="#e898e8" opacity="0.5" filter="url(#f1_30)"/><text x="92.4" y="77.2" font-family='"Liberation Sans", sans-serif' font-size="6.4" font-weight="bold" fill="#111" text-anchor="middle">#&#160;1043</text></svg>
<svg class="abs" style="left:62.6px;top:583.7px" width="136.4" height="120.2" viewBox="0 0 136.4 120.2"><rect width="136.4" height="120.2" fill="#dcdcdc"/><ellipse cx="67.4" cy="12.3" rx="70.0" ry="14.0" fill="#cccccc" filter="url(#f8_00)" opacity="0.7"/><ellipse cx="133.4" cy="66.3" rx="4.0" ry="60.0" fill="#c4c4c4" filter="url(#f3_00)" opacity="0.7"/><ellipse cx="26.3" cy="9.9" rx="13.0" ry="7.0" fill="#9c9c9c" filter="url(#f4_00)" opacity="0.55"/><ellipse cx="6.8" cy="4.7" rx="7.4" ry="6.7" fill="#999" filter="url(#f4_33)" opacity="0.33"/><ellipse cx="6.8" cy="4.7" rx="3.7" ry="3.7" fill="#555" filter="url(#f1_10)"/><ellipse cx="6.8" cy="4.7" rx="0.4" ry="0.4" fill="#c4c4c4" filter="url(#f0_50)"/><ellipse cx="20.9" cy="4.9" rx="8.6" ry="9.0" fill="#999" filter="url(#f4_87)" opacity="0.33"/><ellipse cx="20.9" cy="4.9" rx="4.3" ry="5.0" fill="#080808" filter="url(#f1_10)"/><ellipse cx="20.9" cy="4.9" rx="0.8" ry="0.8" fill="#c4c4c4" filter="url(#f0_50)"/><ellipse cx="31.7" cy="4.9" rx="8.0" ry="9.0" fill="#999" filter="url(#f4_60)" opacity="0.33"/><ellipse cx="31.7" cy="4.9" rx="4.0" ry="5.0" fill="#080808" filter="url(#f1_10)"/><ellipse cx="31.7" cy="4.9" rx="0.8" ry="0.8" fill="#c4c4c4" filter="url(#f0_50)"/><ellipse cx="43.8" cy="5.1" rx="7.4" ry="7.7" fill="#999" filter="url(#f4_33)" opacity="0.33"/><ellipse cx="43.8" cy="5.1" rx="3.7" ry="4.3" fill="#333" filter="url(#f1_10)"/><ellipse cx="43.8" cy="5.1" rx="0.6" ry="0.6" fill="#c4c4c4" filter="url(#f0_50)"/><ellipse cx="56.6" cy="5.8" rx="4.4" ry="7.2" fill="#999" filter="url(#f2_98)" opacity="0.33"/><ellipse cx="56.6" cy="5.8" rx="2.2" ry="4.0" fill="#999" filter="url(#f1_10)"/><ellipse cx="33.7" cy="28.8" rx="9.5" ry="20.9" fill="#8c8c8c" filter="url(#f4_00)" opacity="0.6"/><path d="M31.3 9.4 L31.0 15.8 L30.1 21.0 L28.9 26.6 L28.7 30.8 L29.6 36.2 L31.4 40.9 L32.7 44.3 L34.7 44.3 L35.9 40.9 L37.8 36.2 L38.7 30.8 L38.4 26.6 L37.3 21.0 L35.8 15.8 L34.9 9.4Z" fill="#000" filter="url(#f1_20)"/><ellipse cx="33.4" cy="23.5" rx="0.8" ry="0.8" fill="#aaa" filter="url(#f0_40)"/><ellipse cx="33.4" cy="34.5" rx="0.8" ry="0.8" fill="#aaa" filter="url(#f0_40)"/><ellipse cx="33.7" cy="48.7" rx="1.5" ry="5.4" fill="#666" filter="url(#f1_00)"/><ellipse cx="33.7" cy="53.1" rx="5.6" ry="5.4" fill="#888" filter="url(#f3_52)" opacity="0.33"/><ellipse cx="33.7" cy="53.1" rx="2.8" ry="3.0" fill="#111" filter="url(#f1_00)"/><ellipse cx="33.7" cy="66.6" rx="3.6" ry="4.7" fill="#888" filter="url(#f2_62)" opacity="0.33"/><ellipse cx="33.7" cy="66.6" rx="1.8" ry="2.6" fill="#333" filter="url(#f1_00)"/><ellipse cx="115.7" cy="67.0" rx="6.4" ry="7.2" fill="#888" filter="url(#f3_88)" opacity="0.33"/><ellipse cx="115.7" cy="67.0" rx="3.2" ry="4.0" fill="#000" filter="url(#f1_00)"/><ellipse cx="130.8" cy="64.1" rx="7.0" ry="9.0" fill="#888" filter="url(#f4_15)" opacity="0.33"/><ellipse cx="130.8" cy="64.1" rx="3.5" ry="5.0" fill="#000" filter="url(#f1_00)"/><ellipse cx="116.6" cy="94.0" rx="6.0" ry="7.2" fill="#888" filter="url(#f3_70)" opacity="0.33"/><ellipse cx="116.6" cy="94.0" rx="3.0" ry="4.0" fill="#111" filter="url(#f1_00)"/><ellipse cx="108.0" cy="94.3" rx="5.0" ry="6.3" fill="#888" filter="url(#f3_25)" opacity="0.33"/><ellipse cx="108.0" cy="94.3" rx="2.5" ry="3.5" fill="#777" filter="url(#f1_00)"/><ellipse cx="124.4" cy="90.0" rx="3.6" ry="3.2" fill="#888" filter="url(#f2_62)" opacity="0.33"/><ellipse cx="124.4" cy="90.0" rx="1.8" ry="1.8" fill="#999" filter="url(#f1_00)"/><ellipse cx="128.7" cy="109.9" rx="4.0" ry="6.3" fill="#888" filter="url(#f2_80)" opacity="0.33"/><ellipse cx="128.7" cy="109.9" rx="2.0" ry="3.5" fill="#bbb" filter="url(#f1_00)"/><ellipse cx="39.2" cy="113.2" rx="9.9" ry="6.9" fill="#777" filter="url(#f5_46)" opacity="0.44000000000000006"/><ellipse cx="39.2" cy="113.2" rx="5.0" ry="3.9" fill="#000" filter="url(#f1_10)"/><circle cx="62.6" cy="77.4" r="1.4" fill="#111" filter="url(#f0_40)"/><circle cx="85.8" cy="94.7" r="1.1" fill="#111" filter="url(#f0_40)"/><circle cx="119.2" cy="114.3" r="1.0" fill="#111" filter="url(#f0_40)"/><circle cx="18.0" cy="53.1" r="0.9" fill="#111" filter="url(#f0_40)"/><ellipse cx="87.4" cy="55.9" rx="17.0" ry="3.5" fill="#8a8f8a" filter="url(#f2_50)" opacity="0.8"/><ellipse cx="79.9" cy="36.3" rx="9.5" ry="6.0" fill="#c0c0c0" filter="url(#f2_50)" opacity="0.8"/><ellipse cx="75.9" cy="55.9" rx="6.6" ry="5.2" fill="#999" filter="url(#f3_97)" opacity="0.165"/><ellipse cx="75.9" cy="55.9" rx="3.3" ry="2.9" fill="#152015" filter="url(#f1_00)"/><ellipse cx="82.9" cy="55.9" rx="7.0" ry="5.4" fill="#999" filter="url(#f4_15)" opacity="0.165"/><ellipse cx="82.9" cy="55.9" rx="3.5" ry="3.0" fill="#080808" filter="url(#f1_00)"/><ellipse cx="90.7" cy="55.9" rx="6.6" ry="5.2" fill="#999" filter="url(#f3_97)" opacity="0.165"/><ellipse cx="90.7" cy="55.9" rx="3.3" ry="2.9" fill="#222" filter="url(#f1_00)"/><ellipse cx="100.2" cy="55.9" rx="5.2" ry="4.1" fill="#999" filter="url(#f3_34)" opacity="0.165"/><ellipse cx="100.2" cy="55.9" rx="2.6" ry="2.3" fill="#888" filter="url(#f1_00)"/><circle cx="50.5" cy="43.0" r="2.0" fill="#4ccc4c" opacity="0.16" filter="url(#f0_60)"/><circle cx="50.5" cy="43.0" r="0.6" fill="#225a22" filter="url(#f0_30)"/><circle cx="59.3" cy="43.8" r="2.0" fill="#4ccc4c" opacity="0.16" filter="url(#f0_60)"/><circle cx="59.3" cy="43.8" r="0.6" fill="#225a22" filter="url(#f0_30)"/><circle cx="66.4" cy="43.6" r="2.0" fill="#4ccc4c" opacity="0.16" filter="url(#f0_60)"/><circle cx="66.4" cy="43.6" r="0.6" fill="#225a22" filter="url(#f0_30)"/><circle cx="60.0" cy="52.9" r="2.0" fill="#4ccc4c" opacity="0.16" filter="url(#f0_60)"/><circle cx="60.0" cy="52.9" r="0.6" fill="#225a22" filter="url(#f0_30)"/><circle cx="51.2" cy="60.5" r="2.0" fill="#4ccc4c" opacity="0.16" filter="url(#f0_60)"/><circle cx="51.2" cy="60.5" r="0.6" fill="#225a22" filter="url(#f0_30)"/><circle cx="75.1" cy="44.2" r="2.0" fill="#4ccc4c" opacity="0.16" filter="url(#f0_60)"/><circle cx="75.1" cy="44.2" r="0.6" fill="#225a22" filter="url(#f0_30)"/><circle cx="66.7" cy="27.3" r="0.8" fill="#555" filter="url(#f0_40)"/><circle cx="58.6" cy="14.8" r="0.8" fill="#555" filter="url(#f0_40)"/><circle cx="75.1" cy="38.1" r="0.8" fill="#555" filter="url(#f0_40)"/><circle cx="83.7" cy="38.1" r="0.8" fill="#555" filter="url(#f0_40)"/><circle cx="56.9" cy="13.9" r="0.8" fill="#555" filter="url(#f0_40)"/><circle cx="83.7" cy="19.1" r="0.8" fill="#555" filter="url(#f0_40)"/><circle cx="67.3" cy="26.9" r="0.8" fill="#555" filter="url(#f0_40)"/><circle cx="75.1" cy="27.7" r="0.8" fill="#555" filter="url(#f0_40)"/><circle cx="84.6" cy="31.2" r="0.8" fill="#555" filter="url(#f0_40)"/><circle cx="111.4" cy="29.5" r="0.8" fill="#555" filter="url(#f0_40)"/><circle cx="117.4" cy="29.5" r="0.8" fill="#555" filter="url(#f0_40)"/><circle cx="123.5" cy="29.5" r="0.8" fill="#555" filter="url(#f0_40)"/><circle cx="132.2" cy="29.5" r="0.8" fill="#555" filter="url(#f0_40)"/><circle cx="111.4" cy="21.7" r="0.8" fill="#555" filter="url(#f0_40)"/><circle cx="108.0" cy="36.4" r="0.8" fill="#555" filter="url(#f0_40)"/><circle cx="133.6" cy="39.0" r="0.8" fill="#555" filter="url(#f0_40)"/><circle cx="108.0" cy="55.4" r="0.8" fill="#555" filter="url(#f0_40)"/><circle cx="108.0" cy="66.3" r="0.8" fill="#555" filter="url(#f0_40)"/><circle cx="122.1" cy="62.3" r="0.8" fill="#555" filter="url(#f0_40)"/><circle cx="127.8" cy="80.5" r="0.8" fill="#555" filter="url(#f0_40)"/><circle cx="68.2" cy="118.6" r="0.8" fill="#555" filter="url(#f0_40)"/><circle cx="12.7" cy="74.4" r="0.8" fill="#555" filter="url(#f0_40)"/><rect x="59.9" y="46.1" width="13" height="15.6" rx="3.9" fill="#e898e8" opacity="0.5" filter="url(#f1_30)"/><text x="69.4" y="70.3" font-family='"Liberation Sans", sans-serif' font-size="6.4" font-weight="bold" fill="#111" text-anchor="middle">#&#160;1032</text></svg>
<svg class="abs" style="left:203.5px;top:583.9px" width="132.3" height="120" viewBox="0 0 132.3 120"><rect width="132.3" height="120" fill="#dcdcdc"/><ellipse cx="66.5" cy="12.1" rx="70.0" ry="14.0" fill="#cccccc" filter="url(#f8_00)" opacity="0.7"/><ellipse cx="129.5" cy="66.1" rx="4.0" ry="60.0" fill="#c4c4c4" filter="url(#f3_00)" opacity="0.7"/><ellipse cx="24.4" cy="10.3" rx="13.0" ry="7.0" fill="#9c9c9c" filter="url(#f4_00)" opacity="0.55"/><ellipse cx="4.6" cy="5.1" rx="7.4" ry="6.7" fill="#999" filter="url(#f4_33)" opacity="0.33"/><ellipse cx="4.6" cy="5.1" rx="3.7" ry="3.7" fill="#444" filter="url(#f1_10)"/><ellipse cx="4.6" cy="5.1" rx="0.4" ry="0.4" fill="#c4c4c4" filter="url(#f0_50)"/><ellipse cx="18.7" cy="5.3" rx="9.4" ry="9.5" fill="#999" filter="url(#f5_23)" opacity="0.33"/><ellipse cx="18.7" cy="5.3" rx="4.7" ry="5.3" fill="#050505" filter="url(#f1_10)"/><ellipse cx="18.7" cy="5.3" rx="0.8" ry="0.8" fill="#c4c4c4" filter="url(#f0_50)"/><ellipse cx="30.1" cy="5.3" rx="8.0" ry="9.2" fill="#999" filter="url(#f4_60)" opacity="0.33"/><ellipse cx="30.1" cy="5.3" rx="4.0" ry="5.1" fill="#050505" filter="url(#f1_10)"/><ellipse cx="30.1" cy="5.3" rx="0.8" ry="0.8" fill="#c4c4c4" filter="url(#f0_50)"/><ellipse cx="41.3" cy="5.7" rx="7.4" ry="8.5" fill="#999" filter="url(#f4_33)" opacity="0.33"/><ellipse cx="41.3" cy="5.7" rx="3.7" ry="4.7" fill="#222" filter="url(#f1_10)"/><ellipse cx="41.3" cy="5.7" rx="0.6" ry="0.6" fill="#c4c4c4" filter="url(#f0_50)"/><ellipse cx="53.7" cy="6.1" rx="5.0" ry="7.2" fill="#999" filter="url(#f3_25)" opacity="0.33"/><ellipse cx="53.7" cy="6.1" rx="2.5" ry="4.0" fill="#999" filter="url(#f1_10)"/><ellipse cx="30.8" cy="29.5" rx="9.5" ry="21.2" fill="#8c8c8c" filter="url(#f4_00)" opacity="0.6"/><path d="M28.4 9.8 L28.1 15.6 L27.2 20.8 L26.1 26.4 L25.8 30.6 L26.7 36.4 L28.6 41.5 L29.8 45.1 L31.8 45.1 L33.1 41.5 L34.9 36.4 L35.8 30.6 L35.6 26.4 L34.4 20.8 L32.9 15.6 L32.0 9.8Z" fill="#000" filter="url(#f1_20)"/><ellipse cx="30.5" cy="23.1" rx="0.8" ry="0.8" fill="#aaa" filter="url(#f0_40)"/><ellipse cx="30.5" cy="34.1" rx="0.8" ry="0.8" fill="#aaa" filter="url(#f0_40)"/><ellipse cx="30.8" cy="48.9" rx="1.5" ry="4.8" fill="#666" filter="url(#f1_00)"/><ellipse cx="31.0" cy="52.7" rx="5.6" ry="5.0" fill="#888" filter="url(#f3_52)" opacity="0.33"/><ellipse cx="31.0" cy="52.7" rx="2.8" ry="2.8" fill="#111" filter="url(#f1_00)"/><ellipse cx="31.5" cy="66.4" rx="3.6" ry="4.7" fill="#888" filter="url(#f2_62)" opacity="0.33"/><ellipse cx="31.5" cy="66.4" rx="1.8" ry="2.6" fill="#333" filter="url(#f1_00)"/><ellipse cx="111.4" cy="66.5" rx="6.4" ry="7.7" fill="#888" filter="url(#f3_88)" opacity="0.33"/><ellipse cx="111.4" cy="66.5" rx="3.2" ry="4.3" fill="#000" filter="url(#f1_00)"/><ellipse cx="126.4" cy="63.9" rx="7.0" ry="9.4" fill="#888" filter="url(#f4_15)" opacity="0.33"/><ellipse cx="126.4" cy="63.9" rx="3.5" ry="5.2" fill="#000" filter="url(#f1_00)"/><ellipse cx="112.2" cy="92.4" rx="6.0" ry="7.2" fill="#888" filter="url(#f3_70)" opacity="0.33"/><ellipse cx="112.2" cy="92.4" rx="3.0" ry="4.0" fill="#111" filter="url(#f1_00)"/><ellipse cx="103.6" cy="92.4" rx="5.0" ry="6.3" fill="#888" filter="url(#f3_25)" opacity="0.33"/><ellipse cx="103.6" cy="92.4" rx="2.5" ry="3.5" fill="#777" filter="url(#f1_00)"/><ellipse cx="120.0" cy="88.6" rx="3.6" ry="3.2" fill="#888" filter="url(#f2_62)" opacity="0.33"/><ellipse cx="120.0" cy="88.6" rx="1.8" ry="1.8" fill="#999" filter="url(#f1_00)"/><ellipse cx="124.4" cy="108.9" rx="4.0" ry="6.3" fill="#888" filter="url(#f2_80)" opacity="0.33"/><ellipse cx="124.4" cy="108.9" rx="2.0" ry="3.5" fill="#bbb" filter="url(#f1_00)"/><ellipse cx="130.4" cy="33.6" rx="5.0" ry="6.3" fill="#888" filter="url(#f3_25)" opacity="0.33"/><ellipse cx="130.4" cy="33.6" rx="2.5" ry="3.5" fill="#999" filter="url(#f1_00)"/><ellipse cx="36.1" cy="111.6" rx="9.9" ry="6.9" fill="#777" filter="url(#f5_46)" opacity="0.44000000000000006"/><ellipse cx="36.1" cy="111.6" rx="5.0" ry="3.9" fill="#000" filter="url(#f1_10)"/><circle cx="59.0" cy="76.5" r="1.4" fill="#111" filter="url(#f0_40)"/><circle cx="82.0" cy="93.3" r="1.1" fill="#111" filter="url(#f0_40)"/><circle cx="115.7" cy="113.1" r="1.0" fill="#111" filter="url(#f0_40)"/><circle cx="10.5" cy="74.2" r="1.0" fill="#111" filter="url(#f0_40)"/><ellipse cx="80.5" cy="54.7" rx="20.0" ry="3.5" fill="#8c918c" filter="url(#f2_50)" opacity="0.8"/><ellipse cx="75.5" cy="36.1" rx="11.0" ry="6.0" fill="#c0c0c0" filter="url(#f2_50)" opacity="0.8"/><ellipse cx="63.8" cy="54.7" rx="5.2" ry="4.3" fill="#999" filter="url(#f3_34)" opacity="0.165"/><ellipse cx="63.8" cy="54.7" rx="2.6" ry="2.4" fill="#7a857a" filter="url(#f1_00)"/><ellipse cx="72.1" cy="54.7" rx="7.0" ry="5.4" fill="#999" filter="url(#f4_15)" opacity="0.165"/><ellipse cx="72.1" cy="54.7" rx="3.5" ry="3.0" fill="#1a1a1a" filter="url(#f1_00)"/><ellipse cx="87.7" cy="54.7" rx="7.0" ry="5.4" fill="#999" filter="url(#f4_15)" opacity="0.165"/><ellipse cx="87.7" cy="54.7" rx="3.5" ry="3.0" fill="#1a221a" filter="url(#f1_00)"/><ellipse cx="96.7" cy="54.7" rx="5.2" ry="4.1" fill="#999" filter="url(#f3_34)" opacity="0.165"/><ellipse cx="96.7" cy="54.7" rx="2.6" ry="2.3" fill="#888" filter="url(#f1_00)"/><circle cx="72.5" cy="37.9" r="2.0" fill="#4ccc4c" opacity="0.16" filter="url(#f0_60)"/><circle cx="72.5" cy="37.9" r="0.6" fill="#225a22" filter="url(#f0_30)"/><circle cx="80.2" cy="37.9" r="2.0" fill="#4ccc4c" opacity="0.16" filter="url(#f0_60)"/><circle cx="80.2" cy="37.9" r="0.6" fill="#225a22" filter="url(#f0_30)"/><circle cx="87.7" cy="54.7" r="2.0" fill="#4ccc4c" opacity="0.16" filter="url(#f0_60)"/><circle cx="87.7" cy="54.7" r="0.6" fill="#225a22" filter="url(#f0_30)"/><circle cx="72.5" cy="44.0" r="2.0" fill="#4ccc4c" opacity="0.16" filter="url(#f0_60)"/><circle cx="72.5" cy="44.0" r="0.6" fill="#225a22" filter="url(#f0_30)"/><circle cx="15.7" cy="52.3" r="0.8" fill="#555" filter="url(#f0_40)"/><circle cx="56.4" cy="14.6" r="0.8" fill="#555" filter="url(#f0_40)"/><circle cx="64.2" cy="27.1" r="0.8" fill="#555" filter="url(#f0_40)"/><circle cx="48.0" cy="42.4" r="0.8" fill="#555" filter="url(#f0_40)"/><circle cx="56.1" cy="43.8" r="0.8" fill="#555" filter="url(#f0_40)"/><circle cx="63.8" cy="42.8" r="0.8" fill="#555" filter="url(#f0_40)"/><circle cx="56.4" cy="52.7" r="0.8" fill="#555" filter="url(#f0_40)"/><circle cx="48.6" cy="59.4" r="0.8" fill="#555" filter="url(#f0_40)"/><circle cx="107.1" cy="29.8" r="0.8" fill="#555" filter="url(#f0_40)"/><circle cx="113.1" cy="29.8" r="0.8" fill="#555" filter="url(#f0_40)"/><circle cx="120.0" cy="29.8" r="0.8" fill="#555" filter="url(#f0_40)"/><circle cx="127.8" cy="29.8" r="0.8" fill="#555" filter="url(#f0_40)"/><circle cx="107.1" cy="21.8" r="0.8" fill="#555" filter="url(#f0_40)"/><circle cx="104.5" cy="36.2" r="0.8" fill="#555" filter="url(#f0_40)"/><circle cx="104.5" cy="54.4" r="0.8" fill="#555" filter="url(#f0_40)"/><circle cx="103.6" cy="65.1" r="0.8" fill="#555" filter="url(#f0_40)"/><circle cx="117.4" cy="61.3" r="0.8" fill="#555" filter="url(#f0_40)"/><circle cx="123.5" cy="78.9" r="0.8" fill="#555" filter="url(#f0_40)"/><circle cx="63.8" cy="27.5" r="0.8" fill="#555" filter="url(#f0_40)"/><circle cx="72.1" cy="28.4" r="0.8" fill="#555" filter="url(#f0_40)"/><circle cx="80.2" cy="31.0" r="0.8" fill="#555" filter="url(#f0_40)"/><circle cx="81.1" cy="18.9" r="0.8" fill="#555" filter="url(#f0_40)"/><circle cx="64.7" cy="117.5" r="0.8" fill="#555" filter="url(#f0_40)"/><rect x="72.6" y="47.8" width="11.7" height="13.5" fill="#e888e8" opacity="0.6" filter="url(#f0_60)"/><rect x="73.6" y="48.8" width="9.7" height="11.5" fill="none" stroke="#f4c4f4" stroke-width="0.8" opacity="0.7"/><ellipse cx="78.5" cy="54.5" rx="2.6" ry="2.6" fill="#1a0a1a" filter="url(#f0_60)"/><ellipse cx="78.5" cy="54.5" rx="0.8" ry="0.8" fill="#c4c4c4" filter="url(#f0_50)"/><text x="77.0" y="70.1" font-family='"Liberation Sans", sans-serif' font-size="6.4" font-weight="bold" fill="#111" text-anchor="middle">#&#160;1038</text></svg>
<svg class="abs" style="left:340px;top:584.1px" width="132.2" height="120.2" viewBox="0 0 132.2 120.2"><rect width="132.2" height="120.2" fill="#dcdcdc"/><ellipse cx="65.0" cy="13.9" rx="70.0" ry="14.0" fill="#cccccc" filter="url(#f8_00)" opacity="0.7"/><ellipse cx="129.0" cy="65.9" rx="4.0" ry="60.0" fill="#c4c4c4" filter="url(#f3_00)" opacity="0.7"/><ellipse cx="24.8" cy="13.3" rx="13.0" ry="7.0" fill="#9c9c9c" filter="url(#f4_00)" opacity="0.55"/><ellipse cx="5.8" cy="8.1" rx="7.4" ry="6.7" fill="#999" filter="url(#f4_33)" opacity="0.33"/><ellipse cx="5.8" cy="8.1" rx="3.7" ry="3.7" fill="#555" filter="url(#f1_10)"/><ellipse cx="5.8" cy="8.1" rx="0.3" ry="0.3" fill="#c4c4c4" filter="url(#f0_50)"/><ellipse cx="19.3" cy="8.3" rx="9.4" ry="9.5" fill="#999" filter="url(#f5_23)" opacity="0.33"/><ellipse cx="19.3" cy="8.3" rx="4.7" ry="5.3" fill="#050505" filter="url(#f1_10)"/><ellipse cx="19.3" cy="8.3" rx="0.8" ry="0.8" fill="#c4c4c4" filter="url(#f0_50)"/><ellipse cx="30.3" cy="8.3" rx="8.0" ry="9.5" fill="#999" filter="url(#f4_60)" opacity="0.33"/><ellipse cx="30.3" cy="8.3" rx="4.0" ry="5.3" fill="#0a0a0a" filter="url(#f1_10)"/><ellipse cx="30.3" cy="8.3" rx="0.8" ry="0.8" fill="#c4c4c4" filter="url(#f0_50)"/><ellipse cx="41.7" cy="8.5" rx="7.4" ry="7.7" fill="#999" filter="url(#f4_33)" opacity="0.33"/><ellipse cx="41.7" cy="8.5" rx="3.7" ry="4.3" fill="#333" filter="url(#f1_10)"/><ellipse cx="41.7" cy="8.5" rx="0.5" ry="0.5" fill="#c4c4c4" filter="url(#f0_50)"/><ellipse cx="55.2" cy="8.9" rx="5.0" ry="7.2" fill="#999" filter="url(#f3_25)" opacity="0.33"/><ellipse cx="55.2" cy="8.9" rx="2.5" ry="4.0" fill="#999" filter="url(#f1_10)"/><ellipse cx="31.6" cy="32.1" rx="10.3" ry="20.8" fill="#8c8c8c" filter="url(#f4_00)" opacity="0.6"/><path d="M29.2 12.8 L28.9 18.4 L27.7 23.4 L26.5 28.9 L26.2 32.9 L27.2 38.7 L29.2 43.8 L30.6 47.4 L32.6 47.4 L34.0 43.8 L36.0 38.7 L37.0 32.9 L36.7 28.9 L35.5 23.4 L33.7 18.4 L32.8 12.8Z" fill="#000" filter="url(#f1_20)"/><ellipse cx="31.3" cy="26.7" rx="0.8" ry="0.8" fill="#aaa" filter="url(#f0_40)"/><ellipse cx="31.3" cy="37.2" rx="0.8" ry="0.8" fill="#aaa" filter="url(#f0_40)"/><ellipse cx="31.6" cy="51.4" rx="1.5" ry="5.0" fill="#666" filter="url(#f1_00)"/><ellipse cx="31.6" cy="55.4" rx="5.6" ry="5.4" fill="#888" filter="url(#f3_52)" opacity="0.33"/><ellipse cx="31.6" cy="55.4" rx="2.8" ry="3.0" fill="#111" filter="url(#f1_00)"/><ellipse cx="32.0" cy="68.2" rx="3.6" ry="4.7" fill="#888" filter="url(#f2_62)" opacity="0.33"/><ellipse cx="32.0" cy="68.2" rx="1.8" ry="2.6" fill="#333" filter="url(#f1_00)"/><ellipse cx="112.5" cy="69.7" rx="6.4" ry="7.7" fill="#888" filter="url(#f3_88)" opacity="0.33"/><ellipse cx="112.5" cy="69.7" rx="3.2" ry="4.3" fill="#000" filter="url(#f1_00)"/><ellipse cx="127.7" cy="66.6" rx="7.0" ry="9.4" fill="#888" filter="url(#f4_15)" opacity="0.33"/><ellipse cx="127.7" cy="66.6" rx="3.5" ry="5.2" fill="#000" filter="url(#f1_00)"/><ellipse cx="113.9" cy="95.7" rx="6.0" ry="7.2" fill="#888" filter="url(#f3_70)" opacity="0.33"/><ellipse cx="113.9" cy="95.7" rx="3.0" ry="4.0" fill="#111" filter="url(#f1_00)"/><ellipse cx="105.6" cy="95.9" rx="5.0" ry="6.3" fill="#888" filter="url(#f3_25)" opacity="0.33"/><ellipse cx="105.6" cy="95.9" rx="2.5" ry="3.5" fill="#777" filter="url(#f1_00)"/><ellipse cx="121.1" cy="91.3" rx="3.6" ry="3.2" fill="#888" filter="url(#f2_62)" opacity="0.33"/><ellipse cx="121.1" cy="91.3" rx="1.8" ry="1.8" fill="#999" filter="url(#f1_00)"/><ellipse cx="126.3" cy="112.1" rx="4.0" ry="6.3" fill="#888" filter="url(#f2_80)" opacity="0.33"/><ellipse cx="126.3" cy="112.1" rx="2.0" ry="3.5" fill="#bbb" filter="url(#f1_00)"/><ellipse cx="37.4" cy="114.2" rx="9.9" ry="6.9" fill="#777" filter="url(#f5_46)" opacity="0.44000000000000006"/><ellipse cx="37.4" cy="114.2" rx="5.0" ry="3.9" fill="#000" filter="url(#f1_10)"/><circle cx="60.2" cy="79.8" r="1.5" fill="#111" filter="url(#f0_40)"/><circle cx="83.1" cy="96.5" r="1.1" fill="#111" filter="url(#f0_40)"/><circle cx="116.3" cy="115.6" r="1.0" fill="#111" filter="url(#f0_40)"/><circle cx="16.8" cy="54.8" r="0.9" fill="#111" filter="url(#f0_40)"/><circle cx="11.2" cy="77.3" r="1.2" fill="#111" filter="url(#f0_40)"/><ellipse cx="77.5" cy="57.6" rx="14.5" ry="3.5" fill="#8a8f8a" filter="url(#f2_50)" opacity="0.8"/><ellipse cx="77.5" cy="40.9" rx="12.5" ry="7.0" fill="#c4c4c4" filter="url(#f2_50)" opacity="0.8"/><ellipse cx="76.0" cy="63.9" rx="16.0" ry="4.0" fill="#c8c8c8" filter="url(#f2_50)" opacity="0.8"/><ellipse cx="64.9" cy="57.6" rx="5.2" ry="4.3" fill="#999" filter="url(#f3_34)" opacity="0.165"/><ellipse cx="64.9" cy="57.6" rx="2.6" ry="2.4" fill="#999" filter="url(#f1_00)"/><ellipse cx="73.5" cy="57.6" rx="7.0" ry="5.4" fill="#999" filter="url(#f4_15)" opacity="0.165"/><ellipse cx="73.5" cy="57.6" rx="3.5" ry="3.0" fill="#1a261a" filter="url(#f1_00)"/><ellipse cx="80.5" cy="57.6" rx="7.0" ry="5.4" fill="#999" filter="url(#f4_15)" opacity="0.165"/><ellipse cx="80.5" cy="57.6" rx="3.5" ry="3.0" fill="#111" filter="url(#f1_00)"/><ellipse cx="87.9" cy="57.6" rx="7.0" ry="5.4" fill="#999" filter="url(#f4_15)" opacity="0.165"/><ellipse cx="87.9" cy="57.6" rx="3.5" ry="3.0" fill="#1a1a1a" filter="url(#f1_00)"/><circle cx="105.6" cy="57.6" r="2.0" fill="#4ccc4c" opacity="0.16" filter="url(#f0_60)"/><circle cx="105.6" cy="57.6" r="0.6" fill="#225a22" filter="url(#f0_30)"/><circle cx="105.2" cy="68.9" r="2.0" fill="#4ccc4c" opacity="0.16" filter="url(#f0_60)"/><circle cx="105.2" cy="68.9" r="0.6" fill="#225a22" filter="url(#f0_30)"/><circle cx="73.5" cy="57.6" r="2.0" fill="#4ccc4c" opacity="0.16" filter="url(#f0_60)"/><circle cx="73.5" cy="57.6" r="0.6" fill="#225a22" filter="url(#f0_30)"/><circle cx="57.2" cy="17.7" r="0.8" fill="#555" filter="url(#f0_40)"/><circle cx="64.6" cy="30.5" r="0.8" fill="#555" filter="url(#f0_40)"/><circle cx="48.9" cy="45.7" r="0.8" fill="#555" filter="url(#f0_40)"/><circle cx="57.0" cy="46.7" r="0.8" fill="#555" filter="url(#f0_40)"/><circle cx="64.2" cy="46.3" r="0.8" fill="#555" filter="url(#f0_40)"/><circle cx="57.5" cy="55.7" r="0.8" fill="#555" filter="url(#f0_40)"/><circle cx="48.9" cy="62.4" r="0.8" fill="#555" filter="url(#f0_40)"/><circle cx="109.0" cy="33.0" r="0.8" fill="#555" filter="url(#f0_40)"/><circle cx="115.1" cy="33.0" r="0.8" fill="#555" filter="url(#f0_40)"/><circle cx="121.1" cy="33.0" r="0.8" fill="#555" filter="url(#f0_40)"/><circle cx="128.9" cy="33.0" r="0.8" fill="#555" filter="url(#f0_40)"/><circle cx="109.0" cy="24.7" r="0.8" fill="#555" filter="url(#f0_40)"/><circle cx="105.6" cy="38.9" r="0.8" fill="#555" filter="url(#f0_40)"/><circle cx="130.6" cy="41.2" r="0.8" fill="#555" filter="url(#f0_40)"/><circle cx="124.9" cy="12.6" r="0.8" fill="#555" filter="url(#f0_40)"/><circle cx="56.2" cy="17.8" r="0.8" fill="#555" filter="url(#f0_40)"/><circle cx="81.3" cy="22.7" r="0.8" fill="#555" filter="url(#f0_40)"/><circle cx="73.0" cy="31.3" r="0.8" fill="#555" filter="url(#f0_40)"/><circle cx="82.2" cy="34.3" r="0.8" fill="#555" filter="url(#f0_40)"/><circle cx="73.0" cy="41.2" r="0.8" fill="#555" filter="url(#f0_40)"/><circle cx="81.3" cy="41.7" r="0.8" fill="#555" filter="url(#f0_40)"/><circle cx="125.4" cy="82.2" r="0.8" fill="#555" filter="url(#f0_40)"/><circle cx="119.0" cy="64.5" r="0.8" fill="#555" filter="url(#f0_40)"/><rect x="91.3" y="52.0" width="13" height="13" rx="3.9" fill="#e898e8" opacity="0.5" filter="url(#f1_30)"/><circle cx="97.8" cy="58.5" r="2.2" fill="none" stroke="#555" stroke-width="0.8"/><text x="92.6" y="78.1" font-family='"Liberation Sans", sans-serif' font-size="6.4" font-weight="bold" fill="#111" text-anchor="middle">#&#160;1043</text></svg><svg width="0" height="0" style="position:absolute"><defs><filter id="f14_00" filterUnits="userSpaceOnUse" x="-100" y="-100" width="800" height="800"><feGaussianBlur stdDeviation="14"/></filter><filter id="f11_00" filterUnits="userSpaceOnUse" x="-100" y="-100" width="800" height="800"><feGaussianBlur stdDeviation="11"/></filter><filter id="f7_00" filterUnits="userSpaceOnUse" x="-100" y="-100" width="800" height="800"><feGaussianBlur stdDeviation="7"/></filter><filter id="f9_00" filterUnits="userSpaceOnUse" x="-100" y="-100" width="800" height="800"><feGaussianBlur stdDeviation="9"/></filter><filter id="f6_00" filterUnits="userSpaceOnUse" x="-100" y="-100" width="800" height="800"><feGaussianBlur stdDeviation="6"/></filter><filter id="f5_00" filterUnits="userSpaceOnUse" x="-100" y="-100" width="800" height="800"><feGaussianBlur stdDeviation="5"/></filter><filter id="f2_20" filterUnits="userSpaceOnUse" x="-100" y="-100" width="800" height="800"><feGaussianBlur stdDeviation="2.2"/></filter><filter id="f4_00" filterUnits="userSpaceOnUse" x="-100" y="-100" width="800" height="800"><feGaussianBlur stdDeviation="4"/></filter><filter id="f2_50" filterUnits="userSpaceOnUse" x="-100" y="-100" width="800" height="800"><feGaussianBlur stdDeviation="2.5"/></filter><filter id="f1_60" filterUnits="userSpaceOnUse" x="-100" y="-100" width="800" height="800"><feGaussianBlur stdDeviation="1.6"/></filter><filter id="f3_50" filterUnits="userSpaceOnUse" x="-100" y="-100" width="800" height="800"><feGaussianBlur stdDeviation="3.5"/></filter><filter id="f5_14" filterUnits="userSpaceOnUse" x="-100" y="-100" width="800" height="800"><feGaussianBlur stdDeviation="5.14"/></filter><filter id="f1_70" filterUnits="userSpaceOnUse" x="-100" y="-100" width="800" height="800"><feGaussianBlur stdDeviation="1.7"/></filter><filter id="f5_86" filterUnits="userSpaceOnUse" x="-100" y="-100" width="800" height="800"><feGaussianBlur stdDeviation="5.86"/></filter><filter id="f2_00" filterUnits="userSpaceOnUse" x="-100" y="-100" width="800" height="800"><feGaussianBlur stdDeviation="2.0"/></filter><filter id="f6_76" filterUnits="userSpaceOnUse" x="-100" y="-100" width="800" height="800"><feGaussianBlur stdDeviation="6.760000000000001"/></filter><filter id="f1_80" filterUnits="userSpaceOnUse" x="-100" y="-100" width="800" height="800"><feGaussianBlur stdDeviation="1.8"/></filter><filter id="f5_32" filterUnits="userSpaceOnUse" x="-100" y="-100" width="800" height="800"><feGaussianBlur stdDeviation="5.32"/></filter><filter id="f4_87" filterUnits="userSpaceOnUse" x="-100" y="-100" width="800" height="800"><feGaussianBlur stdDeviation="4.87"/></filter><filter id="f4_42" filterUnits="userSpaceOnUse" x="-100" y="-100" width="800" height="800"><feGaussianBlur stdDeviation="4.42"/></filter><filter id="f5_50" filterUnits="userSpaceOnUse" x="-100" y="-100" width="800" height="800"><feGaussianBlur stdDeviation="5.5"/></filter><filter id="f1_50" filterUnits="userSpaceOnUse" x="-100" y="-100" width="800" height="800"><feGaussianBlur stdDeviation="1.5"/></filter><filter id="f1_40" filterUnits="userSpaceOnUse" x="-100" y="-100" width="800" height="800"><feGaussianBlur stdDeviation="1.4"/></filter><filter id="f0_60" filterUnits="userSpaceOnUse" x="-100" y="-100" width="800" height="800"><feGaussianBlur stdDeviation="0.6"/></filter><filter id="f0_30" filterUnits="userSpaceOnUse" x="-100" y="-100" width="800" height="800"><feGaussianBlur stdDeviation="0.3"/></filter><filter id="f8_00" filterUnits="userSpaceOnUse" x="-100" y="-100" width="800" height="800"><feGaussianBlur stdDeviation="8"/></filter><filter id="f3_00" filterUnits="userSpaceOnUse" x="-100" y="-100" width="800" height="800"><feGaussianBlur stdDeviation="3"/></filter><filter id="f3_97" filterUnits="userSpaceOnUse" x="-100" y="-100" width="800" height="800"><feGaussianBlur stdDeviation="3.9699999999999998"/></filter><filter id="f1_10" filterUnits="userSpaceOnUse" x="-100" y="-100" width="800" height="800"><feGaussianBlur stdDeviation="1.1"/></filter><filter id="f0_50" filterUnits="userSpaceOnUse" x="-100" y="-100" width="800" height="800"><feGaussianBlur stdDeviation="0.5"/></filter><filter id="f4_24" filterUnits="userSpaceOnUse" x="-100" y="-100" width="800" height="800"><feGaussianBlur stdDeviation="4.24"/></filter><filter id="f3_34" filterUnits="userSpaceOnUse" x="-100" y="-100" width="800" height="800"><feGaussianBlur stdDeviation="3.3400000000000003"/></filter><filter id="f2_80" filterUnits="userSpaceOnUse" x="-100" y="-100" width="800" height="800"><feGaussianBlur stdDeviation="2.8"/></filter><filter id="f1_20" filterUnits="userSpaceOnUse" x="-100" y="-100" width="800" height="800"><feGaussianBlur stdDeviation="1.2"/></filter><filter id="f0_40" filterUnits="userSpaceOnUse" x="-100" y="-100" width="800" height="800"><feGaussianBlur stdDeviation="0.4"/></filter><filter id="f1_00" filterUnits="userSpaceOnUse" x="-100" y="-100" width="800" height="800"><feGaussianBlur stdDeviation="1.0"/></filter><filter id="f3_70" filterUnits="userSpaceOnUse" x="-100" y="-100" width="800" height="800"><feGaussianBlur stdDeviation="3.7"/></filter><filter id="f3_88" filterUnits="userSpaceOnUse" x="-100" y="-100" width="800" height="800"><feGaussianBlur stdDeviation="3.8800000000000003"/></filter><filter id="f4_15" filterUnits="userSpaceOnUse" x="-100" y="-100" width="800" height="800"><feGaussianBlur stdDeviation="4.15"/></filter><filter id="f3_25" filterUnits="userSpaceOnUse" x="-100" y="-100" width="800" height="800"><feGaussianBlur stdDeviation="3.25"/></filter><filter id="f4_60" filterUnits="userSpaceOnUse" x="-100" y="-100" width="800" height="800"><feGaussianBlur stdDeviation="4.6"/></filter><filter id="f5_26" filterUnits="userSpaceOnUse" x="-100" y="-100" width="800" height="800"><feGaussianBlur stdDeviation="5.257000000000001"/></filter><filter id="f3_16" filterUnits="userSpaceOnUse" x="-100" y="-100" width="800" height="800"><feGaussianBlur stdDeviation="3.16"/></filter><filter id="f3_52" filterUnits="userSpaceOnUse" x="-100" y="-100" width="800" height="800"><feGaussianBlur stdDeviation="3.52"/></filter><filter id="f5_46" filterUnits="userSpaceOnUse" x="-100" y="-100" width="800" height="800"><feGaussianBlur stdDeviation="5.455"/></filter><filter id="f1_30" filterUnits="userSpaceOnUse" x="-100" y="-100" width="800" height="800"><feGaussianBlur stdDeviation="1.3"/></filter><filter id="f4_33" filterUnits="userSpaceOnUse" x="-100" y="-100" width="800" height="800"><feGaussianBlur stdDeviation="4.33"/></filter><filter id="f2_98" filterUnits="userSpaceOnUse" x="-100" y="-100" width="800" height="800"><feGaussianBlur stdDeviation="2.9800000000000004"/></filter><filter id="f2_62" filterUnits="userSpaceOnUse" x="-100" y="-100" width="800" height="800"><feGaussianBlur stdDeviation="2.62"/></filter><filter id="f5_23" filterUnits="userSpaceOnUse" x="-100" y="-100" width="800" height="800"><feGaussianBlur stdDeviation="5.23"/></filter></defs></svg>
</body></html>
